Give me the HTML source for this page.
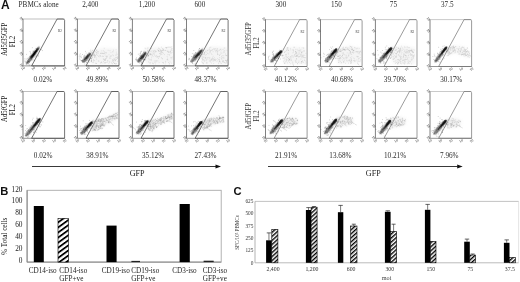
<!DOCTYPE html>
<html><head><meta charset="utf-8"><style>
html,body{margin:0;padding:0;background:#fff;width:520px;height:282px;overflow:hidden}
svg{display:block;font-family:"Liberation Serif",serif;filter:grayscale(1) blur(0.25px)}
</style></head><body>
<svg width="520" height="282" viewBox="0 0 520 282"><defs><filter id="bl1" x="-50%" y="-50%" width="200%" height="200%"><feGaussianBlur stdDeviation="0.55"/></filter><filter id="bl2" x="-50%" y="-50%" width="200%" height="200%"><feGaussianBlur stdDeviation="0.35"/></filter><filter id="bl3" x="-50%" y="-50%" width="200%" height="200%"><feGaussianBlur stdDeviation="1.5"/></filter></defs>
<text x="0.90" y="9.20" font-size="12" text-anchor="start" fill="#111" font-family="Liberation Sans" font-weight="bold">A</text>
<text x="0.30" y="194.80" font-size="11.2" text-anchor="start" fill="#111" font-family="Liberation Sans" font-weight="bold">B</text>
<text x="233.40" y="194.60" font-size="11.2" text-anchor="start" fill="#111" font-family="Liberation Sans" font-weight="bold">C</text>
<line x1="23" y1="19.0" x2="64.6" y2="19.0" stroke="#b8b8b8" stroke-width="0.9"/>
<line x1="23" y1="65.9" x2="64.6" y2="65.9" stroke="#888" stroke-width="0.9"/>
<line x1="23" y1="19.0" x2="23" y2="65.9" stroke="#808080" stroke-width="1"/>
<text transform="translate(20.20,19.00) rotate(58)" font-size="3.8" text-anchor="middle" fill="#3a3a3a" font-family="Liberation Serif">10</text>
<line x1="21.9" y1="19.0" x2="23" y2="19.0" stroke="#777" stroke-width="0.5"/>
<text transform="translate(20.20,30.73) rotate(58)" font-size="3.8" text-anchor="middle" fill="#3a3a3a" font-family="Liberation Serif">10</text>
<line x1="21.9" y1="30.725" x2="23" y2="30.725" stroke="#777" stroke-width="0.5"/>
<text transform="translate(20.20,42.45) rotate(58)" font-size="3.8" text-anchor="middle" fill="#3a3a3a" font-family="Liberation Serif">10</text>
<line x1="21.9" y1="42.45" x2="23" y2="42.45" stroke="#777" stroke-width="0.5"/>
<text transform="translate(20.20,54.18) rotate(58)" font-size="3.8" text-anchor="middle" fill="#3a3a3a" font-family="Liberation Serif">10</text>
<line x1="21.9" y1="54.175000000000004" x2="23" y2="54.175000000000004" stroke="#777" stroke-width="0.5"/>
<text transform="translate(20.20,65.90) rotate(58)" font-size="3.8" text-anchor="middle" fill="#3a3a3a" font-family="Liberation Serif">10</text>
<line x1="21.9" y1="65.9" x2="23" y2="65.9" stroke="#777" stroke-width="0.5"/>
<text transform="translate(23.70,69.60) rotate(-35)" font-size="3.8" text-anchor="middle" fill="#3a3a3a" font-family="Liberation Serif">10</text>
<text transform="translate(34.10,69.60) rotate(-35)" font-size="3.8" text-anchor="middle" fill="#3a3a3a" font-family="Liberation Serif">10</text>
<text transform="translate(44.50,69.60) rotate(-35)" font-size="3.8" text-anchor="middle" fill="#3a3a3a" font-family="Liberation Serif">10</text>
<text transform="translate(54.90,69.60) rotate(-35)" font-size="3.8" text-anchor="middle" fill="#3a3a3a" font-family="Liberation Serif">10</text>
<text transform="translate(65.30,69.60) rotate(-35)" font-size="3.8" text-anchor="middle" fill="#3a3a3a" font-family="Liberation Serif">10</text>
<polyline points="64.6,65.9 31.6,65.9 57.1,19.0 63.599999999999994,19.0 64.6,20.2 64.6,65.9" fill="none" stroke="#3a3a3a" stroke-width="0.7"/>
<text x="58.0" y="32.0" font-size="3.3" fill="#333" font-family="Liberation Serif">R2</text>
<line x1="77.4" y1="19.0" x2="119.0" y2="19.0" stroke="#b8b8b8" stroke-width="0.9"/>
<line x1="77.4" y1="65.9" x2="119.0" y2="65.9" stroke="#888" stroke-width="0.9"/>
<line x1="77.4" y1="19.0" x2="77.4" y2="65.9" stroke="#808080" stroke-width="1"/>
<text transform="translate(74.60,19.00) rotate(58)" font-size="3.8" text-anchor="middle" fill="#3a3a3a" font-family="Liberation Serif">10</text>
<line x1="76.30000000000001" y1="19.0" x2="77.4" y2="19.0" stroke="#777" stroke-width="0.5"/>
<text transform="translate(74.60,30.73) rotate(58)" font-size="3.8" text-anchor="middle" fill="#3a3a3a" font-family="Liberation Serif">10</text>
<line x1="76.30000000000001" y1="30.725" x2="77.4" y2="30.725" stroke="#777" stroke-width="0.5"/>
<text transform="translate(74.60,42.45) rotate(58)" font-size="3.8" text-anchor="middle" fill="#3a3a3a" font-family="Liberation Serif">10</text>
<line x1="76.30000000000001" y1="42.45" x2="77.4" y2="42.45" stroke="#777" stroke-width="0.5"/>
<text transform="translate(74.60,54.18) rotate(58)" font-size="3.8" text-anchor="middle" fill="#3a3a3a" font-family="Liberation Serif">10</text>
<line x1="76.30000000000001" y1="54.175000000000004" x2="77.4" y2="54.175000000000004" stroke="#777" stroke-width="0.5"/>
<text transform="translate(74.60,65.90) rotate(58)" font-size="3.8" text-anchor="middle" fill="#3a3a3a" font-family="Liberation Serif">10</text>
<line x1="76.30000000000001" y1="65.9" x2="77.4" y2="65.9" stroke="#777" stroke-width="0.5"/>
<text transform="translate(78.10,69.60) rotate(-35)" font-size="3.8" text-anchor="middle" fill="#3a3a3a" font-family="Liberation Serif">10</text>
<text transform="translate(88.50,69.60) rotate(-35)" font-size="3.8" text-anchor="middle" fill="#3a3a3a" font-family="Liberation Serif">10</text>
<text transform="translate(98.90,69.60) rotate(-35)" font-size="3.8" text-anchor="middle" fill="#3a3a3a" font-family="Liberation Serif">10</text>
<text transform="translate(109.30,69.60) rotate(-35)" font-size="3.8" text-anchor="middle" fill="#3a3a3a" font-family="Liberation Serif">10</text>
<text transform="translate(119.70,69.60) rotate(-35)" font-size="3.8" text-anchor="middle" fill="#3a3a3a" font-family="Liberation Serif">10</text>
<polyline points="119.0,65.9 86.0,65.9 111.5,19.0 118.0,19.0 119.0,20.2 119.0,65.9" fill="none" stroke="#3a3a3a" stroke-width="0.7"/>
<text x="112.4" y="32.0" font-size="3.3" fill="#333" font-family="Liberation Serif">R2</text>
<line x1="132.4" y1="19.0" x2="174.0" y2="19.0" stroke="#b8b8b8" stroke-width="0.9"/>
<line x1="132.4" y1="65.9" x2="174.0" y2="65.9" stroke="#888" stroke-width="0.9"/>
<line x1="132.4" y1="19.0" x2="132.4" y2="65.9" stroke="#808080" stroke-width="1"/>
<text transform="translate(129.60,19.00) rotate(58)" font-size="3.8" text-anchor="middle" fill="#3a3a3a" font-family="Liberation Serif">10</text>
<line x1="131.3" y1="19.0" x2="132.4" y2="19.0" stroke="#777" stroke-width="0.5"/>
<text transform="translate(129.60,30.73) rotate(58)" font-size="3.8" text-anchor="middle" fill="#3a3a3a" font-family="Liberation Serif">10</text>
<line x1="131.3" y1="30.725" x2="132.4" y2="30.725" stroke="#777" stroke-width="0.5"/>
<text transform="translate(129.60,42.45) rotate(58)" font-size="3.8" text-anchor="middle" fill="#3a3a3a" font-family="Liberation Serif">10</text>
<line x1="131.3" y1="42.45" x2="132.4" y2="42.45" stroke="#777" stroke-width="0.5"/>
<text transform="translate(129.60,54.18) rotate(58)" font-size="3.8" text-anchor="middle" fill="#3a3a3a" font-family="Liberation Serif">10</text>
<line x1="131.3" y1="54.175000000000004" x2="132.4" y2="54.175000000000004" stroke="#777" stroke-width="0.5"/>
<text transform="translate(129.60,65.90) rotate(58)" font-size="3.8" text-anchor="middle" fill="#3a3a3a" font-family="Liberation Serif">10</text>
<line x1="131.3" y1="65.9" x2="132.4" y2="65.9" stroke="#777" stroke-width="0.5"/>
<text transform="translate(133.10,69.60) rotate(-35)" font-size="3.8" text-anchor="middle" fill="#3a3a3a" font-family="Liberation Serif">10</text>
<text transform="translate(143.50,69.60) rotate(-35)" font-size="3.8" text-anchor="middle" fill="#3a3a3a" font-family="Liberation Serif">10</text>
<text transform="translate(153.90,69.60) rotate(-35)" font-size="3.8" text-anchor="middle" fill="#3a3a3a" font-family="Liberation Serif">10</text>
<text transform="translate(164.30,69.60) rotate(-35)" font-size="3.8" text-anchor="middle" fill="#3a3a3a" font-family="Liberation Serif">10</text>
<text transform="translate(174.70,69.60) rotate(-35)" font-size="3.8" text-anchor="middle" fill="#3a3a3a" font-family="Liberation Serif">10</text>
<polyline points="174.0,65.9 141.0,65.9 166.5,19.0 173.0,19.0 174.0,20.2 174.0,65.9" fill="none" stroke="#3a3a3a" stroke-width="0.7"/>
<text x="167.4" y="32.0" font-size="3.3" fill="#333" font-family="Liberation Serif">R2</text>
<line x1="186.5" y1="19.0" x2="228.1" y2="19.0" stroke="#b8b8b8" stroke-width="0.9"/>
<line x1="186.5" y1="65.9" x2="228.1" y2="65.9" stroke="#888" stroke-width="0.9"/>
<line x1="186.5" y1="19.0" x2="186.5" y2="65.9" stroke="#808080" stroke-width="1"/>
<text transform="translate(183.70,19.00) rotate(58)" font-size="3.8" text-anchor="middle" fill="#3a3a3a" font-family="Liberation Serif">10</text>
<line x1="185.4" y1="19.0" x2="186.5" y2="19.0" stroke="#777" stroke-width="0.5"/>
<text transform="translate(183.70,30.73) rotate(58)" font-size="3.8" text-anchor="middle" fill="#3a3a3a" font-family="Liberation Serif">10</text>
<line x1="185.4" y1="30.725" x2="186.5" y2="30.725" stroke="#777" stroke-width="0.5"/>
<text transform="translate(183.70,42.45) rotate(58)" font-size="3.8" text-anchor="middle" fill="#3a3a3a" font-family="Liberation Serif">10</text>
<line x1="185.4" y1="42.45" x2="186.5" y2="42.45" stroke="#777" stroke-width="0.5"/>
<text transform="translate(183.70,54.18) rotate(58)" font-size="3.8" text-anchor="middle" fill="#3a3a3a" font-family="Liberation Serif">10</text>
<line x1="185.4" y1="54.175000000000004" x2="186.5" y2="54.175000000000004" stroke="#777" stroke-width="0.5"/>
<text transform="translate(183.70,65.90) rotate(58)" font-size="3.8" text-anchor="middle" fill="#3a3a3a" font-family="Liberation Serif">10</text>
<line x1="185.4" y1="65.9" x2="186.5" y2="65.9" stroke="#777" stroke-width="0.5"/>
<text transform="translate(187.20,69.60) rotate(-35)" font-size="3.8" text-anchor="middle" fill="#3a3a3a" font-family="Liberation Serif">10</text>
<text transform="translate(197.60,69.60) rotate(-35)" font-size="3.8" text-anchor="middle" fill="#3a3a3a" font-family="Liberation Serif">10</text>
<text transform="translate(208.00,69.60) rotate(-35)" font-size="3.8" text-anchor="middle" fill="#3a3a3a" font-family="Liberation Serif">10</text>
<text transform="translate(218.40,69.60) rotate(-35)" font-size="3.8" text-anchor="middle" fill="#3a3a3a" font-family="Liberation Serif">10</text>
<text transform="translate(228.80,69.60) rotate(-35)" font-size="3.8" text-anchor="middle" fill="#3a3a3a" font-family="Liberation Serif">10</text>
<polyline points="228.1,65.9 195.1,65.9 220.6,19.0 227.1,19.0 228.1,20.2 228.1,65.9" fill="none" stroke="#3a3a3a" stroke-width="0.7"/>
<text x="221.5" y="32.0" font-size="3.3" fill="#333" font-family="Liberation Serif">R2</text>
<line x1="265.5" y1="19.6" x2="307.1" y2="19.6" stroke="#c4c4c4" stroke-width="0.9"/>
<line x1="265.5" y1="66.5" x2="307.1" y2="66.5" stroke="#888" stroke-width="0.9"/>
<line x1="265.5" y1="19.6" x2="265.5" y2="66.5" stroke="#808080" stroke-width="1"/>
<text transform="translate(262.70,19.60) rotate(58)" font-size="3.8" text-anchor="middle" fill="#3a3a3a" font-family="Liberation Serif">10</text>
<line x1="264.4" y1="19.6" x2="265.5" y2="19.6" stroke="#777" stroke-width="0.5"/>
<text transform="translate(262.70,31.33) rotate(58)" font-size="3.8" text-anchor="middle" fill="#3a3a3a" font-family="Liberation Serif">10</text>
<line x1="264.4" y1="31.325000000000003" x2="265.5" y2="31.325000000000003" stroke="#777" stroke-width="0.5"/>
<text transform="translate(262.70,43.05) rotate(58)" font-size="3.8" text-anchor="middle" fill="#3a3a3a" font-family="Liberation Serif">10</text>
<line x1="264.4" y1="43.05" x2="265.5" y2="43.05" stroke="#777" stroke-width="0.5"/>
<text transform="translate(262.70,54.77) rotate(58)" font-size="3.8" text-anchor="middle" fill="#3a3a3a" font-family="Liberation Serif">10</text>
<line x1="264.4" y1="54.775" x2="265.5" y2="54.775" stroke="#777" stroke-width="0.5"/>
<text transform="translate(262.70,66.50) rotate(58)" font-size="3.8" text-anchor="middle" fill="#3a3a3a" font-family="Liberation Serif">10</text>
<line x1="264.4" y1="66.5" x2="265.5" y2="66.5" stroke="#777" stroke-width="0.5"/>
<text transform="translate(266.20,70.20) rotate(-35)" font-size="3.8" text-anchor="middle" fill="#3a3a3a" font-family="Liberation Serif">10</text>
<text transform="translate(276.60,70.20) rotate(-35)" font-size="3.8" text-anchor="middle" fill="#3a3a3a" font-family="Liberation Serif">10</text>
<text transform="translate(287.00,70.20) rotate(-35)" font-size="3.8" text-anchor="middle" fill="#3a3a3a" font-family="Liberation Serif">10</text>
<text transform="translate(297.40,70.20) rotate(-35)" font-size="3.8" text-anchor="middle" fill="#3a3a3a" font-family="Liberation Serif">10</text>
<text transform="translate(307.80,70.20) rotate(-35)" font-size="3.8" text-anchor="middle" fill="#3a3a3a" font-family="Liberation Serif">10</text>
<polyline points="307.1,66.5 274.1,66.5 299.6,19.6 306.1,19.6 307.1,20.8 307.1,66.5" fill="none" stroke="#707070" stroke-width="0.7"/>
<text x="300.5" y="32.6" font-size="3.3" fill="#333" font-family="Liberation Serif">R2</text>
<line x1="320.5" y1="19.6" x2="362.1" y2="19.6" stroke="#c4c4c4" stroke-width="0.9"/>
<line x1="320.5" y1="66.5" x2="362.1" y2="66.5" stroke="#888" stroke-width="0.9"/>
<line x1="320.5" y1="19.6" x2="320.5" y2="66.5" stroke="#808080" stroke-width="1"/>
<text transform="translate(317.70,19.60) rotate(58)" font-size="3.8" text-anchor="middle" fill="#3a3a3a" font-family="Liberation Serif">10</text>
<line x1="319.4" y1="19.6" x2="320.5" y2="19.6" stroke="#777" stroke-width="0.5"/>
<text transform="translate(317.70,31.33) rotate(58)" font-size="3.8" text-anchor="middle" fill="#3a3a3a" font-family="Liberation Serif">10</text>
<line x1="319.4" y1="31.325000000000003" x2="320.5" y2="31.325000000000003" stroke="#777" stroke-width="0.5"/>
<text transform="translate(317.70,43.05) rotate(58)" font-size="3.8" text-anchor="middle" fill="#3a3a3a" font-family="Liberation Serif">10</text>
<line x1="319.4" y1="43.05" x2="320.5" y2="43.05" stroke="#777" stroke-width="0.5"/>
<text transform="translate(317.70,54.77) rotate(58)" font-size="3.8" text-anchor="middle" fill="#3a3a3a" font-family="Liberation Serif">10</text>
<line x1="319.4" y1="54.775" x2="320.5" y2="54.775" stroke="#777" stroke-width="0.5"/>
<text transform="translate(317.70,66.50) rotate(58)" font-size="3.8" text-anchor="middle" fill="#3a3a3a" font-family="Liberation Serif">10</text>
<line x1="319.4" y1="66.5" x2="320.5" y2="66.5" stroke="#777" stroke-width="0.5"/>
<text transform="translate(321.20,70.20) rotate(-35)" font-size="3.8" text-anchor="middle" fill="#3a3a3a" font-family="Liberation Serif">10</text>
<text transform="translate(331.60,70.20) rotate(-35)" font-size="3.8" text-anchor="middle" fill="#3a3a3a" font-family="Liberation Serif">10</text>
<text transform="translate(342.00,70.20) rotate(-35)" font-size="3.8" text-anchor="middle" fill="#3a3a3a" font-family="Liberation Serif">10</text>
<text transform="translate(352.40,70.20) rotate(-35)" font-size="3.8" text-anchor="middle" fill="#3a3a3a" font-family="Liberation Serif">10</text>
<text transform="translate(362.80,70.20) rotate(-35)" font-size="3.8" text-anchor="middle" fill="#3a3a3a" font-family="Liberation Serif">10</text>
<polyline points="362.1,66.5 329.1,66.5 354.6,19.6 361.1,19.6 362.1,20.8 362.1,66.5" fill="none" stroke="#707070" stroke-width="0.7"/>
<text x="355.5" y="32.6" font-size="3.3" fill="#333" font-family="Liberation Serif">R2</text>
<line x1="375.4" y1="19.6" x2="417.0" y2="19.6" stroke="#c4c4c4" stroke-width="0.9"/>
<line x1="375.4" y1="66.5" x2="417.0" y2="66.5" stroke="#888" stroke-width="0.9"/>
<line x1="375.4" y1="19.6" x2="375.4" y2="66.5" stroke="#808080" stroke-width="1"/>
<text transform="translate(372.60,19.60) rotate(58)" font-size="3.8" text-anchor="middle" fill="#3a3a3a" font-family="Liberation Serif">10</text>
<line x1="374.29999999999995" y1="19.6" x2="375.4" y2="19.6" stroke="#777" stroke-width="0.5"/>
<text transform="translate(372.60,31.33) rotate(58)" font-size="3.8" text-anchor="middle" fill="#3a3a3a" font-family="Liberation Serif">10</text>
<line x1="374.29999999999995" y1="31.325000000000003" x2="375.4" y2="31.325000000000003" stroke="#777" stroke-width="0.5"/>
<text transform="translate(372.60,43.05) rotate(58)" font-size="3.8" text-anchor="middle" fill="#3a3a3a" font-family="Liberation Serif">10</text>
<line x1="374.29999999999995" y1="43.05" x2="375.4" y2="43.05" stroke="#777" stroke-width="0.5"/>
<text transform="translate(372.60,54.77) rotate(58)" font-size="3.8" text-anchor="middle" fill="#3a3a3a" font-family="Liberation Serif">10</text>
<line x1="374.29999999999995" y1="54.775" x2="375.4" y2="54.775" stroke="#777" stroke-width="0.5"/>
<text transform="translate(372.60,66.50) rotate(58)" font-size="3.8" text-anchor="middle" fill="#3a3a3a" font-family="Liberation Serif">10</text>
<line x1="374.29999999999995" y1="66.5" x2="375.4" y2="66.5" stroke="#777" stroke-width="0.5"/>
<text transform="translate(376.10,70.20) rotate(-35)" font-size="3.8" text-anchor="middle" fill="#3a3a3a" font-family="Liberation Serif">10</text>
<text transform="translate(386.50,70.20) rotate(-35)" font-size="3.8" text-anchor="middle" fill="#3a3a3a" font-family="Liberation Serif">10</text>
<text transform="translate(396.90,70.20) rotate(-35)" font-size="3.8" text-anchor="middle" fill="#3a3a3a" font-family="Liberation Serif">10</text>
<text transform="translate(407.30,70.20) rotate(-35)" font-size="3.8" text-anchor="middle" fill="#3a3a3a" font-family="Liberation Serif">10</text>
<text transform="translate(417.70,70.20) rotate(-35)" font-size="3.8" text-anchor="middle" fill="#3a3a3a" font-family="Liberation Serif">10</text>
<polyline points="417.0,66.5 384.0,66.5 409.5,19.6 416.0,19.6 417.0,20.8 417.0,66.5" fill="none" stroke="#707070" stroke-width="0.7"/>
<text x="410.4" y="32.6" font-size="3.3" fill="#333" font-family="Liberation Serif">R2</text>
<line x1="430" y1="19.6" x2="471.6" y2="19.6" stroke="#c4c4c4" stroke-width="0.9"/>
<line x1="430" y1="66.5" x2="471.6" y2="66.5" stroke="#888" stroke-width="0.9"/>
<line x1="430" y1="19.6" x2="430" y2="66.5" stroke="#808080" stroke-width="1"/>
<text transform="translate(427.20,19.60) rotate(58)" font-size="3.8" text-anchor="middle" fill="#3a3a3a" font-family="Liberation Serif">10</text>
<line x1="428.9" y1="19.6" x2="430" y2="19.6" stroke="#777" stroke-width="0.5"/>
<text transform="translate(427.20,31.33) rotate(58)" font-size="3.8" text-anchor="middle" fill="#3a3a3a" font-family="Liberation Serif">10</text>
<line x1="428.9" y1="31.325000000000003" x2="430" y2="31.325000000000003" stroke="#777" stroke-width="0.5"/>
<text transform="translate(427.20,43.05) rotate(58)" font-size="3.8" text-anchor="middle" fill="#3a3a3a" font-family="Liberation Serif">10</text>
<line x1="428.9" y1="43.05" x2="430" y2="43.05" stroke="#777" stroke-width="0.5"/>
<text transform="translate(427.20,54.77) rotate(58)" font-size="3.8" text-anchor="middle" fill="#3a3a3a" font-family="Liberation Serif">10</text>
<line x1="428.9" y1="54.775" x2="430" y2="54.775" stroke="#777" stroke-width="0.5"/>
<text transform="translate(427.20,66.50) rotate(58)" font-size="3.8" text-anchor="middle" fill="#3a3a3a" font-family="Liberation Serif">10</text>
<line x1="428.9" y1="66.5" x2="430" y2="66.5" stroke="#777" stroke-width="0.5"/>
<text transform="translate(430.70,70.20) rotate(-35)" font-size="3.8" text-anchor="middle" fill="#3a3a3a" font-family="Liberation Serif">10</text>
<text transform="translate(441.10,70.20) rotate(-35)" font-size="3.8" text-anchor="middle" fill="#3a3a3a" font-family="Liberation Serif">10</text>
<text transform="translate(451.50,70.20) rotate(-35)" font-size="3.8" text-anchor="middle" fill="#3a3a3a" font-family="Liberation Serif">10</text>
<text transform="translate(461.90,70.20) rotate(-35)" font-size="3.8" text-anchor="middle" fill="#3a3a3a" font-family="Liberation Serif">10</text>
<text transform="translate(472.30,70.20) rotate(-35)" font-size="3.8" text-anchor="middle" fill="#3a3a3a" font-family="Liberation Serif">10</text>
<polyline points="471.6,66.5 438.6,66.5 464.1,19.6 470.6,19.6 471.6,20.8 471.6,66.5" fill="none" stroke="#707070" stroke-width="0.7"/>
<line x1="23" y1="91.5" x2="64.6" y2="91.5" stroke="#b8b8b8" stroke-width="0.9"/>
<line x1="23" y1="138.3" x2="64.6" y2="138.3" stroke="#888" stroke-width="0.9"/>
<line x1="23" y1="91.5" x2="23" y2="138.3" stroke="#808080" stroke-width="1"/>
<text transform="translate(20.20,91.50) rotate(58)" font-size="3.8" text-anchor="middle" fill="#3a3a3a" font-family="Liberation Serif">10</text>
<line x1="21.9" y1="91.5" x2="23" y2="91.5" stroke="#777" stroke-width="0.5"/>
<text transform="translate(20.20,103.20) rotate(58)" font-size="3.8" text-anchor="middle" fill="#3a3a3a" font-family="Liberation Serif">10</text>
<line x1="21.9" y1="103.2" x2="23" y2="103.2" stroke="#777" stroke-width="0.5"/>
<text transform="translate(20.20,114.90) rotate(58)" font-size="3.8" text-anchor="middle" fill="#3a3a3a" font-family="Liberation Serif">10</text>
<line x1="21.9" y1="114.9" x2="23" y2="114.9" stroke="#777" stroke-width="0.5"/>
<text transform="translate(20.20,126.60) rotate(58)" font-size="3.8" text-anchor="middle" fill="#3a3a3a" font-family="Liberation Serif">10</text>
<line x1="21.9" y1="126.60000000000001" x2="23" y2="126.60000000000001" stroke="#777" stroke-width="0.5"/>
<text transform="translate(20.20,138.30) rotate(58)" font-size="3.8" text-anchor="middle" fill="#3a3a3a" font-family="Liberation Serif">10</text>
<line x1="21.9" y1="138.3" x2="23" y2="138.3" stroke="#777" stroke-width="0.5"/>
<text transform="translate(23.70,142.00) rotate(-35)" font-size="3.8" text-anchor="middle" fill="#3a3a3a" font-family="Liberation Serif">10</text>
<text transform="translate(34.10,142.00) rotate(-35)" font-size="3.8" text-anchor="middle" fill="#3a3a3a" font-family="Liberation Serif">10</text>
<text transform="translate(44.50,142.00) rotate(-35)" font-size="3.8" text-anchor="middle" fill="#3a3a3a" font-family="Liberation Serif">10</text>
<text transform="translate(54.90,142.00) rotate(-35)" font-size="3.8" text-anchor="middle" fill="#3a3a3a" font-family="Liberation Serif">10</text>
<text transform="translate(65.30,142.00) rotate(-35)" font-size="3.8" text-anchor="middle" fill="#3a3a3a" font-family="Liberation Serif">10</text>
<polyline points="64.6,138.3 31.6,138.3 57.1,91.5 63.599999999999994,91.5 64.6,92.7 64.6,138.3" fill="none" stroke="#3a3a3a" stroke-width="0.7"/>
<line x1="77.4" y1="91.5" x2="119.0" y2="91.5" stroke="#b8b8b8" stroke-width="0.9"/>
<line x1="77.4" y1="138.3" x2="119.0" y2="138.3" stroke="#888" stroke-width="0.9"/>
<line x1="77.4" y1="91.5" x2="77.4" y2="138.3" stroke="#808080" stroke-width="1"/>
<text transform="translate(74.60,91.50) rotate(58)" font-size="3.8" text-anchor="middle" fill="#3a3a3a" font-family="Liberation Serif">10</text>
<line x1="76.30000000000001" y1="91.5" x2="77.4" y2="91.5" stroke="#777" stroke-width="0.5"/>
<text transform="translate(74.60,103.20) rotate(58)" font-size="3.8" text-anchor="middle" fill="#3a3a3a" font-family="Liberation Serif">10</text>
<line x1="76.30000000000001" y1="103.2" x2="77.4" y2="103.2" stroke="#777" stroke-width="0.5"/>
<text transform="translate(74.60,114.90) rotate(58)" font-size="3.8" text-anchor="middle" fill="#3a3a3a" font-family="Liberation Serif">10</text>
<line x1="76.30000000000001" y1="114.9" x2="77.4" y2="114.9" stroke="#777" stroke-width="0.5"/>
<text transform="translate(74.60,126.60) rotate(58)" font-size="3.8" text-anchor="middle" fill="#3a3a3a" font-family="Liberation Serif">10</text>
<line x1="76.30000000000001" y1="126.60000000000001" x2="77.4" y2="126.60000000000001" stroke="#777" stroke-width="0.5"/>
<text transform="translate(74.60,138.30) rotate(58)" font-size="3.8" text-anchor="middle" fill="#3a3a3a" font-family="Liberation Serif">10</text>
<line x1="76.30000000000001" y1="138.3" x2="77.4" y2="138.3" stroke="#777" stroke-width="0.5"/>
<text transform="translate(78.10,142.00) rotate(-35)" font-size="3.8" text-anchor="middle" fill="#3a3a3a" font-family="Liberation Serif">10</text>
<text transform="translate(88.50,142.00) rotate(-35)" font-size="3.8" text-anchor="middle" fill="#3a3a3a" font-family="Liberation Serif">10</text>
<text transform="translate(98.90,142.00) rotate(-35)" font-size="3.8" text-anchor="middle" fill="#3a3a3a" font-family="Liberation Serif">10</text>
<text transform="translate(109.30,142.00) rotate(-35)" font-size="3.8" text-anchor="middle" fill="#3a3a3a" font-family="Liberation Serif">10</text>
<text transform="translate(119.70,142.00) rotate(-35)" font-size="3.8" text-anchor="middle" fill="#3a3a3a" font-family="Liberation Serif">10</text>
<polyline points="119.0,138.3 86.0,138.3 111.5,91.5 118.0,91.5 119.0,92.7 119.0,138.3" fill="none" stroke="#3a3a3a" stroke-width="0.7"/>
<line x1="132.4" y1="91.5" x2="174.0" y2="91.5" stroke="#b8b8b8" stroke-width="0.9"/>
<line x1="132.4" y1="138.3" x2="174.0" y2="138.3" stroke="#888" stroke-width="0.9"/>
<line x1="132.4" y1="91.5" x2="132.4" y2="138.3" stroke="#808080" stroke-width="1"/>
<text transform="translate(129.60,91.50) rotate(58)" font-size="3.8" text-anchor="middle" fill="#3a3a3a" font-family="Liberation Serif">10</text>
<line x1="131.3" y1="91.5" x2="132.4" y2="91.5" stroke="#777" stroke-width="0.5"/>
<text transform="translate(129.60,103.20) rotate(58)" font-size="3.8" text-anchor="middle" fill="#3a3a3a" font-family="Liberation Serif">10</text>
<line x1="131.3" y1="103.2" x2="132.4" y2="103.2" stroke="#777" stroke-width="0.5"/>
<text transform="translate(129.60,114.90) rotate(58)" font-size="3.8" text-anchor="middle" fill="#3a3a3a" font-family="Liberation Serif">10</text>
<line x1="131.3" y1="114.9" x2="132.4" y2="114.9" stroke="#777" stroke-width="0.5"/>
<text transform="translate(129.60,126.60) rotate(58)" font-size="3.8" text-anchor="middle" fill="#3a3a3a" font-family="Liberation Serif">10</text>
<line x1="131.3" y1="126.60000000000001" x2="132.4" y2="126.60000000000001" stroke="#777" stroke-width="0.5"/>
<text transform="translate(129.60,138.30) rotate(58)" font-size="3.8" text-anchor="middle" fill="#3a3a3a" font-family="Liberation Serif">10</text>
<line x1="131.3" y1="138.3" x2="132.4" y2="138.3" stroke="#777" stroke-width="0.5"/>
<text transform="translate(133.10,142.00) rotate(-35)" font-size="3.8" text-anchor="middle" fill="#3a3a3a" font-family="Liberation Serif">10</text>
<text transform="translate(143.50,142.00) rotate(-35)" font-size="3.8" text-anchor="middle" fill="#3a3a3a" font-family="Liberation Serif">10</text>
<text transform="translate(153.90,142.00) rotate(-35)" font-size="3.8" text-anchor="middle" fill="#3a3a3a" font-family="Liberation Serif">10</text>
<text transform="translate(164.30,142.00) rotate(-35)" font-size="3.8" text-anchor="middle" fill="#3a3a3a" font-family="Liberation Serif">10</text>
<text transform="translate(174.70,142.00) rotate(-35)" font-size="3.8" text-anchor="middle" fill="#3a3a3a" font-family="Liberation Serif">10</text>
<polyline points="174.0,138.3 141.0,138.3 166.5,91.5 173.0,91.5 174.0,92.7 174.0,138.3" fill="none" stroke="#3a3a3a" stroke-width="0.7"/>
<line x1="186.5" y1="91.5" x2="228.1" y2="91.5" stroke="#b8b8b8" stroke-width="0.9"/>
<line x1="186.5" y1="138.3" x2="228.1" y2="138.3" stroke="#888" stroke-width="0.9"/>
<line x1="186.5" y1="91.5" x2="186.5" y2="138.3" stroke="#808080" stroke-width="1"/>
<text transform="translate(183.70,91.50) rotate(58)" font-size="3.8" text-anchor="middle" fill="#3a3a3a" font-family="Liberation Serif">10</text>
<line x1="185.4" y1="91.5" x2="186.5" y2="91.5" stroke="#777" stroke-width="0.5"/>
<text transform="translate(183.70,103.20) rotate(58)" font-size="3.8" text-anchor="middle" fill="#3a3a3a" font-family="Liberation Serif">10</text>
<line x1="185.4" y1="103.2" x2="186.5" y2="103.2" stroke="#777" stroke-width="0.5"/>
<text transform="translate(183.70,114.90) rotate(58)" font-size="3.8" text-anchor="middle" fill="#3a3a3a" font-family="Liberation Serif">10</text>
<line x1="185.4" y1="114.9" x2="186.5" y2="114.9" stroke="#777" stroke-width="0.5"/>
<text transform="translate(183.70,126.60) rotate(58)" font-size="3.8" text-anchor="middle" fill="#3a3a3a" font-family="Liberation Serif">10</text>
<line x1="185.4" y1="126.60000000000001" x2="186.5" y2="126.60000000000001" stroke="#777" stroke-width="0.5"/>
<text transform="translate(183.70,138.30) rotate(58)" font-size="3.8" text-anchor="middle" fill="#3a3a3a" font-family="Liberation Serif">10</text>
<line x1="185.4" y1="138.3" x2="186.5" y2="138.3" stroke="#777" stroke-width="0.5"/>
<text transform="translate(187.20,142.00) rotate(-35)" font-size="3.8" text-anchor="middle" fill="#3a3a3a" font-family="Liberation Serif">10</text>
<text transform="translate(197.60,142.00) rotate(-35)" font-size="3.8" text-anchor="middle" fill="#3a3a3a" font-family="Liberation Serif">10</text>
<text transform="translate(208.00,142.00) rotate(-35)" font-size="3.8" text-anchor="middle" fill="#3a3a3a" font-family="Liberation Serif">10</text>
<text transform="translate(218.40,142.00) rotate(-35)" font-size="3.8" text-anchor="middle" fill="#3a3a3a" font-family="Liberation Serif">10</text>
<text transform="translate(228.80,142.00) rotate(-35)" font-size="3.8" text-anchor="middle" fill="#3a3a3a" font-family="Liberation Serif">10</text>
<polyline points="228.1,138.3 195.1,138.3 220.6,91.5 227.1,91.5 228.1,92.7 228.1,138.3" fill="none" stroke="#3a3a3a" stroke-width="0.7"/>
<line x1="265.5" y1="91.5" x2="307.1" y2="91.5" stroke="#c4c4c4" stroke-width="0.9"/>
<line x1="265.5" y1="138.3" x2="307.1" y2="138.3" stroke="#888" stroke-width="0.9"/>
<line x1="265.5" y1="91.5" x2="265.5" y2="138.3" stroke="#808080" stroke-width="1"/>
<text transform="translate(262.70,91.50) rotate(58)" font-size="3.8" text-anchor="middle" fill="#3a3a3a" font-family="Liberation Serif">10</text>
<line x1="264.4" y1="91.5" x2="265.5" y2="91.5" stroke="#777" stroke-width="0.5"/>
<text transform="translate(262.70,103.20) rotate(58)" font-size="3.8" text-anchor="middle" fill="#3a3a3a" font-family="Liberation Serif">10</text>
<line x1="264.4" y1="103.2" x2="265.5" y2="103.2" stroke="#777" stroke-width="0.5"/>
<text transform="translate(262.70,114.90) rotate(58)" font-size="3.8" text-anchor="middle" fill="#3a3a3a" font-family="Liberation Serif">10</text>
<line x1="264.4" y1="114.9" x2="265.5" y2="114.9" stroke="#777" stroke-width="0.5"/>
<text transform="translate(262.70,126.60) rotate(58)" font-size="3.8" text-anchor="middle" fill="#3a3a3a" font-family="Liberation Serif">10</text>
<line x1="264.4" y1="126.60000000000001" x2="265.5" y2="126.60000000000001" stroke="#777" stroke-width="0.5"/>
<text transform="translate(262.70,138.30) rotate(58)" font-size="3.8" text-anchor="middle" fill="#3a3a3a" font-family="Liberation Serif">10</text>
<line x1="264.4" y1="138.3" x2="265.5" y2="138.3" stroke="#777" stroke-width="0.5"/>
<text transform="translate(266.20,142.00) rotate(-35)" font-size="3.8" text-anchor="middle" fill="#3a3a3a" font-family="Liberation Serif">10</text>
<text transform="translate(276.60,142.00) rotate(-35)" font-size="3.8" text-anchor="middle" fill="#3a3a3a" font-family="Liberation Serif">10</text>
<text transform="translate(287.00,142.00) rotate(-35)" font-size="3.8" text-anchor="middle" fill="#3a3a3a" font-family="Liberation Serif">10</text>
<text transform="translate(297.40,142.00) rotate(-35)" font-size="3.8" text-anchor="middle" fill="#3a3a3a" font-family="Liberation Serif">10</text>
<text transform="translate(307.80,142.00) rotate(-35)" font-size="3.8" text-anchor="middle" fill="#3a3a3a" font-family="Liberation Serif">10</text>
<polyline points="307.1,138.3 274.1,138.3 299.6,91.5 306.1,91.5 307.1,92.7 307.1,138.3" fill="none" stroke="#707070" stroke-width="0.7"/>
<line x1="320.5" y1="91.5" x2="362.1" y2="91.5" stroke="#c4c4c4" stroke-width="0.9"/>
<line x1="320.5" y1="138.3" x2="362.1" y2="138.3" stroke="#888" stroke-width="0.9"/>
<line x1="320.5" y1="91.5" x2="320.5" y2="138.3" stroke="#808080" stroke-width="1"/>
<text transform="translate(317.70,91.50) rotate(58)" font-size="3.8" text-anchor="middle" fill="#3a3a3a" font-family="Liberation Serif">10</text>
<line x1="319.4" y1="91.5" x2="320.5" y2="91.5" stroke="#777" stroke-width="0.5"/>
<text transform="translate(317.70,103.20) rotate(58)" font-size="3.8" text-anchor="middle" fill="#3a3a3a" font-family="Liberation Serif">10</text>
<line x1="319.4" y1="103.2" x2="320.5" y2="103.2" stroke="#777" stroke-width="0.5"/>
<text transform="translate(317.70,114.90) rotate(58)" font-size="3.8" text-anchor="middle" fill="#3a3a3a" font-family="Liberation Serif">10</text>
<line x1="319.4" y1="114.9" x2="320.5" y2="114.9" stroke="#777" stroke-width="0.5"/>
<text transform="translate(317.70,126.60) rotate(58)" font-size="3.8" text-anchor="middle" fill="#3a3a3a" font-family="Liberation Serif">10</text>
<line x1="319.4" y1="126.60000000000001" x2="320.5" y2="126.60000000000001" stroke="#777" stroke-width="0.5"/>
<text transform="translate(317.70,138.30) rotate(58)" font-size="3.8" text-anchor="middle" fill="#3a3a3a" font-family="Liberation Serif">10</text>
<line x1="319.4" y1="138.3" x2="320.5" y2="138.3" stroke="#777" stroke-width="0.5"/>
<text transform="translate(321.20,142.00) rotate(-35)" font-size="3.8" text-anchor="middle" fill="#3a3a3a" font-family="Liberation Serif">10</text>
<text transform="translate(331.60,142.00) rotate(-35)" font-size="3.8" text-anchor="middle" fill="#3a3a3a" font-family="Liberation Serif">10</text>
<text transform="translate(342.00,142.00) rotate(-35)" font-size="3.8" text-anchor="middle" fill="#3a3a3a" font-family="Liberation Serif">10</text>
<text transform="translate(352.40,142.00) rotate(-35)" font-size="3.8" text-anchor="middle" fill="#3a3a3a" font-family="Liberation Serif">10</text>
<text transform="translate(362.80,142.00) rotate(-35)" font-size="3.8" text-anchor="middle" fill="#3a3a3a" font-family="Liberation Serif">10</text>
<polyline points="362.1,138.3 329.1,138.3 354.6,91.5 361.1,91.5 362.1,92.7 362.1,138.3" fill="none" stroke="#707070" stroke-width="0.7"/>
<line x1="375.4" y1="91.5" x2="417.0" y2="91.5" stroke="#c4c4c4" stroke-width="0.9"/>
<line x1="375.4" y1="138.3" x2="417.0" y2="138.3" stroke="#888" stroke-width="0.9"/>
<line x1="375.4" y1="91.5" x2="375.4" y2="138.3" stroke="#808080" stroke-width="1"/>
<text transform="translate(372.60,91.50) rotate(58)" font-size="3.8" text-anchor="middle" fill="#3a3a3a" font-family="Liberation Serif">10</text>
<line x1="374.29999999999995" y1="91.5" x2="375.4" y2="91.5" stroke="#777" stroke-width="0.5"/>
<text transform="translate(372.60,103.20) rotate(58)" font-size="3.8" text-anchor="middle" fill="#3a3a3a" font-family="Liberation Serif">10</text>
<line x1="374.29999999999995" y1="103.2" x2="375.4" y2="103.2" stroke="#777" stroke-width="0.5"/>
<text transform="translate(372.60,114.90) rotate(58)" font-size="3.8" text-anchor="middle" fill="#3a3a3a" font-family="Liberation Serif">10</text>
<line x1="374.29999999999995" y1="114.9" x2="375.4" y2="114.9" stroke="#777" stroke-width="0.5"/>
<text transform="translate(372.60,126.60) rotate(58)" font-size="3.8" text-anchor="middle" fill="#3a3a3a" font-family="Liberation Serif">10</text>
<line x1="374.29999999999995" y1="126.60000000000001" x2="375.4" y2="126.60000000000001" stroke="#777" stroke-width="0.5"/>
<text transform="translate(372.60,138.30) rotate(58)" font-size="3.8" text-anchor="middle" fill="#3a3a3a" font-family="Liberation Serif">10</text>
<line x1="374.29999999999995" y1="138.3" x2="375.4" y2="138.3" stroke="#777" stroke-width="0.5"/>
<text transform="translate(376.10,142.00) rotate(-35)" font-size="3.8" text-anchor="middle" fill="#3a3a3a" font-family="Liberation Serif">10</text>
<text transform="translate(386.50,142.00) rotate(-35)" font-size="3.8" text-anchor="middle" fill="#3a3a3a" font-family="Liberation Serif">10</text>
<text transform="translate(396.90,142.00) rotate(-35)" font-size="3.8" text-anchor="middle" fill="#3a3a3a" font-family="Liberation Serif">10</text>
<text transform="translate(407.30,142.00) rotate(-35)" font-size="3.8" text-anchor="middle" fill="#3a3a3a" font-family="Liberation Serif">10</text>
<text transform="translate(417.70,142.00) rotate(-35)" font-size="3.8" text-anchor="middle" fill="#3a3a3a" font-family="Liberation Serif">10</text>
<polyline points="417.0,138.3 384.0,138.3 409.5,91.5 416.0,91.5 417.0,92.7 417.0,138.3" fill="none" stroke="#707070" stroke-width="0.7"/>
<line x1="430" y1="91.5" x2="471.6" y2="91.5" stroke="#c4c4c4" stroke-width="0.9"/>
<line x1="430" y1="138.3" x2="471.6" y2="138.3" stroke="#888" stroke-width="0.9"/>
<line x1="430" y1="91.5" x2="430" y2="138.3" stroke="#808080" stroke-width="1"/>
<text transform="translate(427.20,91.50) rotate(58)" font-size="3.8" text-anchor="middle" fill="#3a3a3a" font-family="Liberation Serif">10</text>
<line x1="428.9" y1="91.5" x2="430" y2="91.5" stroke="#777" stroke-width="0.5"/>
<text transform="translate(427.20,103.20) rotate(58)" font-size="3.8" text-anchor="middle" fill="#3a3a3a" font-family="Liberation Serif">10</text>
<line x1="428.9" y1="103.2" x2="430" y2="103.2" stroke="#777" stroke-width="0.5"/>
<text transform="translate(427.20,114.90) rotate(58)" font-size="3.8" text-anchor="middle" fill="#3a3a3a" font-family="Liberation Serif">10</text>
<line x1="428.9" y1="114.9" x2="430" y2="114.9" stroke="#777" stroke-width="0.5"/>
<text transform="translate(427.20,126.60) rotate(58)" font-size="3.8" text-anchor="middle" fill="#3a3a3a" font-family="Liberation Serif">10</text>
<line x1="428.9" y1="126.60000000000001" x2="430" y2="126.60000000000001" stroke="#777" stroke-width="0.5"/>
<text transform="translate(427.20,138.30) rotate(58)" font-size="3.8" text-anchor="middle" fill="#3a3a3a" font-family="Liberation Serif">10</text>
<line x1="428.9" y1="138.3" x2="430" y2="138.3" stroke="#777" stroke-width="0.5"/>
<text transform="translate(430.70,142.00) rotate(-35)" font-size="3.8" text-anchor="middle" fill="#3a3a3a" font-family="Liberation Serif">10</text>
<text transform="translate(441.10,142.00) rotate(-35)" font-size="3.8" text-anchor="middle" fill="#3a3a3a" font-family="Liberation Serif">10</text>
<text transform="translate(451.50,142.00) rotate(-35)" font-size="3.8" text-anchor="middle" fill="#3a3a3a" font-family="Liberation Serif">10</text>
<text transform="translate(461.90,142.00) rotate(-35)" font-size="3.8" text-anchor="middle" fill="#3a3a3a" font-family="Liberation Serif">10</text>
<text transform="translate(472.30,142.00) rotate(-35)" font-size="3.8" text-anchor="middle" fill="#3a3a3a" font-family="Liberation Serif">10</text>
<polyline points="471.6,138.3 438.6,138.3 464.1,91.5 470.6,91.5 471.6,92.7 471.6,138.3" fill="none" stroke="#707070" stroke-width="0.7"/>
<defs><clipPath id="cp00"><rect x="23.5" y="19.5" width="40.6" height="45.900000000000006"/></clipPath><clipPath id="cp01"><rect x="77.9" y="19.5" width="40.6" height="45.900000000000006"/></clipPath><clipPath id="cp02"><rect x="132.9" y="19.5" width="40.6" height="45.900000000000006"/></clipPath><clipPath id="cp03"><rect x="187.0" y="19.5" width="40.6" height="45.900000000000006"/></clipPath><clipPath id="cp04"><rect x="266.0" y="20.1" width="40.6" height="45.9"/></clipPath><clipPath id="cp05"><rect x="321.0" y="20.1" width="40.6" height="45.9"/></clipPath><clipPath id="cp06"><rect x="375.9" y="20.1" width="40.6" height="45.9"/></clipPath><clipPath id="cp07"><rect x="430.5" y="20.1" width="40.6" height="45.9"/></clipPath><clipPath id="cp10"><rect x="23.5" y="92.0" width="40.6" height="45.80000000000001"/></clipPath><clipPath id="cp11"><rect x="77.9" y="92.0" width="40.6" height="45.80000000000001"/></clipPath><clipPath id="cp12"><rect x="132.9" y="92.0" width="40.6" height="45.80000000000001"/></clipPath><clipPath id="cp13"><rect x="187.0" y="92.0" width="40.6" height="45.80000000000001"/></clipPath><clipPath id="cp14"><rect x="266.0" y="92.0" width="40.6" height="45.80000000000001"/></clipPath><clipPath id="cp15"><rect x="321.0" y="92.0" width="40.6" height="45.80000000000001"/></clipPath><clipPath id="cp16"><rect x="375.9" y="92.0" width="40.6" height="45.80000000000001"/></clipPath><clipPath id="cp17"><rect x="430.5" y="92.0" width="40.6" height="45.80000000000001"/></clipPath></defs>
<ellipse cx="32.94" cy="55.34" rx="11.66" ry="2.11" transform="rotate(-53.4 32.94 55.34)" fill="#999" fill-opacity="0.6" filter="url(#bl1)"/>
<ellipse cx="30.66" cy="58.40" rx="7.41" ry="1.70" transform="rotate(-53.4 30.66 58.40)" fill="#555" fill-opacity="0.6" filter="url(#bl1)"/>
<ellipse cx="34.69" cy="52.98" rx="7.19" ry="1.16" transform="rotate(-53.4 34.69 52.98)" fill="#000" fill-opacity="0.95" filter="url(#bl2)"/>
<path d="M32.2 59.9h0M29.8 64.6h0M32.6 54.7h0M33.3 56.0h0M26.3 62.8h0M27.9 62.7h0M32.2 57.3h0M28.3 59.6h0M36.8 55.5h0M30.5 56.8h0M42.4 50.6h0M31.2 60.1h0M29.6 62.6h0M37.8 51.3h0M26.2 59.1h0M29.7 56.7h0M33.9 55.4h0M29.3 60.8h0M33.3 51.5h0M34.5 54.8h0M31.0 55.6h0M38.6 55.0h0M27.3 58.3h0M36.2 48.6h0M34.2 50.9h0M33.5 66.2h0M31.7 57.1h0M31.4 55.0h0M25.3 62.1h0M30.5 52.2h0M36.1 48.5h0M36.7 56.3h0M29.9 51.6h0M39.2 49.1h0M32.0 55.8h0M34.5 51.9h0M38.3 56.1h0M29.8 59.1h0M31.1 57.4h0M31.8 56.0h0M29.1 61.6h0M36.5 51.6h0M28.1 61.9h0M39.3 51.0h0M25.0 60.8h0M38.2 49.9h0M37.7 51.2h0M30.4 56.2h0M34.8 60.9h0M24.9 58.9h0M28.8 61.2h0M34.0 57.0h0M33.8 54.2h0M31.9 57.2h0M26.4 54.4h0M33.0 51.0h0M30.6 53.7h0M25.1 61.6h0M38.4 49.6h0M32.3 47.7h0M30.6 56.9h0M34.9 53.9h0M28.5 63.9h0M29.1 61.7h0M30.7 58.4h0M28.4 61.5h0M27.4 62.1h0M37.6 49.7h0M35.0 54.5h0M32.0 59.2h0M33.8 60.1h0M41.5 49.6h0M31.4 55.6h0M27.8 62.4h0M30.4 58.0h0M32.3 64.2h0M29.2 65.4h0M27.5 61.0h0M35.7 56.8h0M39.0 48.0h0" stroke="#000" stroke-opacity="0.3" stroke-width="0.7" stroke-linecap="round"/>
<path d="M90.0 50.0 L104.0 48.0 L118.0 49.0 L118.0 64.0 L92.0 64.0 L89.0 58.0Z" fill="#d4d4d4" fill-opacity="0.25" filter="url(#bl3)"/>
<path d="M114.0 59.1h0M96.6 53.9h0M93.8 60.4h0M104.4 60.5h0M98.6 51.6h0M112.5 63.8h0M113.7 60.9h0M112.7 59.8h0M95.6 56.3h0M89.8 52.5h0M96.5 59.1h0M116.7 55.2h0M116.2 63.8h0M116.7 53.8h0M95.4 51.6h0M94.7 51.3h0M107.1 62.4h0M113.4 55.7h0M107.9 60.8h0M91.5 58.6h0M115.4 60.5h0M110.8 55.6h0M94.2 60.6h0M98.6 60.8h0M117.2 54.3h0M100.6 63.1h0M110.0 50.7h0M92.7 50.4h0M115.2 60.9h0M93.2 61.2h0M117.4 58.5h0M99.2 56.8h0M117.2 58.4h0M104.3 62.9h0M101.6 61.9h0M113.0 51.4h0M96.3 52.7h0M96.0 57.4h0M96.5 54.7h0M92.8 62.6h0M99.3 55.3h0M105.9 62.5h0M101.2 62.7h0M103.5 56.5h0M104.2 48.3h0M101.8 50.9h0M94.0 55.6h0M110.0 56.9h0M98.5 56.3h0M105.1 60.5h0M92.1 57.0h0M96.2 52.4h0M111.4 56.1h0M105.3 60.2h0M115.5 55.1h0M106.8 56.1h0M103.9 59.1h0M102.1 56.5h0M102.9 63.1h0M109.3 62.0h0M116.3 52.2h0M105.2 63.1h0M113.4 50.2h0M92.5 55.1h0M91.1 51.9h0M91.1 58.7h0M111.7 62.4h0M93.5 59.5h0M108.1 50.3h0M114.6 63.5h0M95.4 63.2h0M100.5 55.8h0M117.7 61.3h0M93.7 54.9h0M104.0 53.4h0M94.7 53.1h0M105.1 55.0h0M107.1 56.2h0M111.9 63.5h0M92.0 52.2h0M96.8 50.1h0M101.2 62.6h0M112.8 52.1h0M93.3 62.7h0M105.5 59.2h0M109.0 54.8h0M107.4 60.8h0M91.4 61.7h0M90.9 61.8h0M102.2 53.4h0M105.0 62.8h0M96.8 50.1h0M104.3 51.8h0M92.2 50.6h0M90.5 51.2h0M98.0 52.9h0M111.0 52.6h0M103.5 50.8h0M110.3 56.8h0M94.5 55.6h0M116.1 49.7h0M112.7 54.9h0M103.4 61.4h0M100.4 56.1h0M108.9 63.7h0M98.9 61.3h0M109.5 58.2h0M100.7 53.6h0M90.6 50.1h0M91.1 59.9h0M96.4 50.6h0M91.5 61.5h0M114.2 58.7h0M97.2 51.9h0M97.5 55.4h0M93.6 55.1h0M96.6 63.4h0M117.2 56.8h0M96.1 63.5h0M98.0 53.7h0M102.8 56.0h0M94.8 56.1h0M91.6 54.4h0M97.8 51.7h0M106.0 56.5h0M110.8 58.5h0M109.8 62.1h0" stroke="#666" stroke-opacity="0.28" stroke-width="0.6" stroke-linecap="round"/>
<path d="M100.3 53.2 L102.0 53.2 L103.7 53.6 L105.2 52.8 L107.0 52.9M114.9 58.0 L116.3 57.6 L117.7 57.3 L119.2 57.0 L120.6 57.5M112.3 61.2 L113.4 62.1 L114.1 63.2 L115.2 63.9 L116.5 63.6M92.9 53.8 L93.6 54.1 L94.3 54.6 L94.9 55.3 L95.3 56.0M112.1 60.0 L113.3 60.3 L114.5 59.8 L115.7 59.8 L116.9 59.3M91.2 52.2 L92.6 52.4 L93.6 53.5 L94.6 54.6 L95.8 55.5M102.9 58.9 L104.3 59.5 L105.8 59.0 L106.7 57.8 L107.1 56.3" fill="none" stroke="#888" stroke-opacity="0.45" stroke-width="0.5" clip-path="url(#cp01)"/>
<ellipse cx="86.71" cy="57.55" rx="6.62" ry="2.05" transform="rotate(-46.6 86.71 57.55)" fill="#999" fill-opacity="0.6" filter="url(#bl1)"/>
<ellipse cx="85.22" cy="59.12" rx="4.21" ry="1.65" transform="rotate(-46.6 85.22 59.12)" fill="#555" fill-opacity="0.6" filter="url(#bl1)"/>
<ellipse cx="87.86" cy="56.33" rx="4.09" ry="1.12" transform="rotate(-46.6 87.86 56.33)" fill="#000" fill-opacity="0.7124999999999999" filter="url(#bl2)"/>
<path d="M87.7 54.9h0M84.8 64.0h0M82.7 61.2h0M90.8 58.6h0M87.4 55.7h0M88.4 60.0h0M89.1 60.7h0M86.7 62.7h0M90.7 53.9h0M86.1 58.0h0M91.0 56.8h0M84.3 59.3h0M85.4 61.3h0M86.8 56.6h0M79.2 56.6h0M82.9 60.2h0M85.4 51.4h0M88.0 55.8h0M86.0 61.6h0M81.5 60.6h0M80.6 60.1h0M85.0 59.5h0M82.8 60.0h0M90.6 56.0h0M82.5 62.0h0M80.0 57.7h0M89.1 53.2h0M81.1 56.0h0M80.3 53.9h0M91.4 60.8h0M84.1 57.7h0M83.5 62.2h0M84.1 61.8h0M88.8 52.8h0M84.3 59.7h0M86.2 62.4h0M89.1 62.2h0M88.0 54.1h0M91.3 60.1h0M84.7 55.2h0M91.1 58.5h0M87.0 59.0h0M87.7 54.7h0M81.7 60.5h0M91.4 55.4h0M86.7 60.4h0M84.6 59.1h0M79.7 55.1h0M87.1 55.7h0M87.9 60.7h0M84.5 61.2h0M90.9 55.2h0M87.2 58.4h0M94.4 57.1h0M86.9 58.9h0M84.1 62.1h0M86.4 60.1h0M85.3 60.5h0M89.4 59.3h0M83.9 56.6h0M84.1 56.8h0M85.0 58.9h0M82.2 60.7h0M88.2 65.3h0M84.1 55.4h0M81.6 57.7h0M84.7 59.7h0M87.9 59.9h0M92.3 55.8h0M79.7 59.0h0M81.8 60.8h0M82.6 54.5h0M89.0 58.7h0M90.0 54.1h0M92.1 57.7h0M80.7 56.3h0M84.6 62.2h0M89.8 57.9h0M89.6 53.5h0M86.1 53.0h0" stroke="#000" stroke-opacity="0.3" stroke-width="0.7" stroke-linecap="round"/>
<path d="M145.0 48.0 L160.0 47.0 L173.0 48.0 L173.0 64.0 L146.0 64.0 L144.0 56.0Z" fill="#d4d4d4" fill-opacity="0.25" filter="url(#bl3)"/>
<path d="M157.3 56.4h0M145.1 60.3h0M150.7 62.6h0M162.7 52.2h0M147.7 51.3h0M162.5 58.9h0M147.3 48.2h0M159.2 56.9h0M155.3 50.8h0M161.4 47.2h0M152.7 54.8h0M171.8 58.0h0M169.6 55.1h0M150.8 51.2h0M171.9 59.0h0M158.5 58.5h0M156.2 51.4h0M163.4 62.7h0M153.8 54.1h0M163.8 50.4h0M167.1 59.6h0M158.6 50.5h0M172.1 52.3h0M167.8 50.9h0M150.4 59.9h0M152.6 63.2h0M158.4 50.2h0M150.5 54.1h0M163.3 63.1h0M148.2 53.7h0M150.2 63.6h0M148.1 47.9h0M145.7 53.7h0M170.0 62.0h0M165.2 64.0h0M171.0 52.6h0M149.4 62.9h0M165.6 47.5h0M163.3 53.4h0M154.8 52.6h0M152.1 53.0h0M171.7 49.1h0M172.0 50.5h0M154.3 61.0h0M167.8 54.4h0M145.4 55.0h0M154.8 62.6h0M149.6 53.2h0M155.9 60.8h0M166.2 47.7h0M145.0 48.1h0M170.7 51.4h0M165.7 62.3h0M153.8 51.6h0M171.8 57.5h0M151.6 59.2h0M153.2 51.7h0M170.6 57.8h0M150.8 55.1h0M171.7 63.2h0M155.2 51.3h0M156.5 55.4h0M170.9 50.1h0M167.3 59.6h0M167.9 60.1h0M161.6 52.6h0M153.3 53.2h0M166.7 48.3h0M149.7 59.8h0M151.2 48.1h0M145.0 56.4h0M153.4 63.7h0M169.6 63.8h0M151.7 48.4h0M146.8 55.5h0M164.6 54.6h0M150.8 54.1h0M162.0 58.5h0M165.7 61.4h0M163.3 49.1h0M168.4 52.0h0M160.4 53.3h0M165.4 50.4h0M151.2 51.2h0M148.4 62.0h0M160.8 52.5h0M155.5 63.9h0M158.7 50.9h0M167.4 58.1h0M172.7 48.7h0M157.8 60.9h0M168.4 62.5h0M145.2 52.0h0M147.5 50.2h0M172.2 56.9h0M171.0 53.3h0M169.1 54.6h0M151.5 60.2h0M171.4 48.8h0M161.3 57.5h0M150.3 53.3h0M148.1 50.5h0M151.4 57.2h0M162.9 50.5h0M163.7 50.1h0M153.1 50.5h0M167.1 56.3h0M145.8 48.7h0M155.5 56.4h0M162.5 48.5h0M148.7 58.8h0M155.9 51.8h0M152.9 63.2h0M153.1 56.6h0M154.4 54.1h0M169.1 63.9h0M154.5 50.4h0M165.1 50.5h0M156.3 60.9h0M155.8 62.0h0M157.4 49.8h0M144.4 56.4h0M162.6 62.5h0M146.6 57.6h0M154.8 55.6h0M148.2 51.8h0M159.1 62.7h0" stroke="#666" stroke-opacity="0.28" stroke-width="0.6" stroke-linecap="round"/>
<path d="M147.2 55.3 L148.7 55.3 L150.0 54.4 L151.5 54.6 L152.5 55.7M158.0 47.9 L159.4 48.8 L160.7 49.9 L161.2 51.5 L162.5 52.5M166.8 50.8 L167.5 51.7 L168.6 52.1 L169.8 52.0 L170.9 51.7M159.0 53.5 L159.9 53.6 L160.5 54.2 L161.4 54.2 L162.3 54.3M166.0 47.6 L167.5 47.3 L169.1 47.1 L170.7 47.2 L172.2 46.8M156.2 56.9 L157.4 57.0 L158.5 57.0 L159.4 56.1 L160.3 55.5M158.2 51.0 L159.7 51.3 L161.1 50.9 L162.5 50.4 L163.4 49.1" fill="none" stroke="#888" stroke-opacity="0.45" stroke-width="0.5" clip-path="url(#cp02)"/>
<ellipse cx="142.01" cy="57.05" rx="7.02" ry="2.17" transform="rotate(-49.6 142.01 57.05)" fill="#999" fill-opacity="0.6" filter="url(#bl1)"/>
<ellipse cx="140.52" cy="58.80" rx="4.46" ry="1.75" transform="rotate(-49.6 140.52 58.80)" fill="#555" fill-opacity="0.6" filter="url(#bl1)"/>
<ellipse cx="143.16" cy="55.70" rx="4.33" ry="1.19" transform="rotate(-49.6 143.16 55.70)" fill="#000" fill-opacity="0.6174999999999999" filter="url(#bl2)"/>
<path d="M138.0 60.1h0M141.7 58.1h0M144.7 59.5h0M139.2 61.8h0M144.1 55.4h0M135.9 59.5h0M138.3 54.2h0M142.3 63.6h0M148.0 56.6h0M144.3 54.2h0M141.7 62.1h0M145.3 52.7h0M147.0 54.8h0M148.3 55.7h0M136.3 59.7h0M141.8 62.8h0M144.5 53.0h0M142.6 63.7h0M143.1 58.2h0M139.3 58.9h0M141.7 57.0h0M139.8 60.7h0M141.9 62.8h0M143.9 52.5h0M139.4 60.6h0M141.1 56.1h0M140.4 53.8h0M145.4 59.4h0M143.2 57.1h0M145.2 52.0h0M140.1 53.6h0M142.1 61.4h0M144.1 51.2h0M143.1 54.0h0M142.8 59.0h0M141.1 64.1h0M144.4 54.2h0M148.6 55.1h0M141.6 55.7h0M136.3 60.7h0M139.7 63.1h0M143.5 59.8h0M142.8 57.8h0M139.0 59.3h0M143.2 55.9h0M140.7 58.6h0M137.8 60.2h0M143.6 57.4h0M143.4 57.1h0M144.3 59.8h0M140.3 61.9h0M138.4 60.1h0M136.0 58.9h0M141.0 51.9h0M141.0 58.2h0M143.3 56.1h0M140.6 55.2h0M143.7 59.8h0M145.2 53.0h0M143.6 52.1h0M136.2 59.9h0M139.3 59.4h0M138.3 61.5h0M141.9 56.5h0M146.2 53.8h0M143.8 57.1h0M139.6 55.2h0M136.4 57.9h0M140.1 58.9h0M145.6 54.1h0M144.1 54.5h0M144.4 53.8h0M140.6 52.2h0M142.2 58.3h0M140.8 60.8h0M139.0 62.4h0M140.5 58.8h0M141.5 51.3h0M143.3 55.0h0M143.8 60.0h0" stroke="#000" stroke-opacity="0.3" stroke-width="0.7" stroke-linecap="round"/>
<path d="M201.0 48.0 L215.0 46.5 L228.0 48.0 L228.0 64.0 L202.0 64.0 L200.0 56.0Z" fill="#d4d4d4" fill-opacity="0.25" filter="url(#bl3)"/>
<path d="M222.1 55.7h0M207.4 57.7h0M227.0 50.3h0M207.3 50.6h0M220.8 63.0h0M220.9 52.2h0M224.6 52.2h0M206.7 62.4h0M217.7 58.6h0M218.6 63.6h0M213.1 61.2h0M219.5 61.5h0M212.2 59.2h0M216.0 51.9h0M205.9 57.4h0M202.2 62.4h0M203.0 62.8h0M209.7 49.0h0M219.4 57.6h0M219.5 59.4h0M201.8 56.8h0M210.2 60.8h0M222.9 62.1h0M201.8 61.7h0M225.6 63.0h0M203.0 50.1h0M223.7 60.7h0M217.8 60.9h0M217.7 51.5h0M202.8 48.2h0M221.2 50.1h0M208.9 53.9h0M207.9 59.0h0M210.3 52.1h0M227.0 55.3h0M223.8 57.3h0M200.9 53.7h0M212.2 60.0h0M209.7 58.8h0M215.1 50.3h0M224.1 48.1h0M223.0 49.5h0M221.3 63.6h0M200.1 55.1h0M213.8 60.4h0M205.2 55.2h0M209.7 61.1h0M207.3 63.0h0M207.9 50.3h0M219.6 55.2h0M203.1 57.6h0M202.3 60.3h0M219.5 60.3h0M217.6 52.7h0M211.2 53.4h0M224.9 48.0h0M205.8 51.1h0M225.2 55.3h0M210.6 62.0h0M206.5 54.6h0M214.9 59.7h0M221.1 57.8h0M209.8 52.2h0M204.3 61.3h0M218.5 59.5h0M204.7 54.2h0M221.7 56.6h0M203.5 54.6h0M224.8 50.7h0M205.4 51.8h0M219.7 61.3h0M204.3 49.2h0M206.9 52.2h0M214.6 49.3h0M209.2 49.8h0M227.3 59.3h0M202.9 63.3h0M202.8 53.2h0M227.5 60.4h0M220.5 54.1h0M205.5 57.7h0M203.0 50.1h0M210.9 47.1h0M211.2 60.3h0M219.4 55.3h0M217.7 54.6h0M204.0 57.1h0M211.3 59.5h0M225.4 54.0h0M216.1 59.6h0M211.8 50.5h0M220.2 61.9h0M221.7 58.8h0M223.9 58.4h0M218.0 54.4h0M208.8 57.5h0M202.7 53.8h0M221.9 59.0h0M217.6 50.9h0M211.9 54.5h0M217.4 53.7h0M218.9 62.8h0M205.1 58.0h0M221.8 53.3h0M213.7 63.6h0M201.1 56.0h0M204.5 60.2h0M226.3 55.6h0M202.8 56.6h0M215.1 59.1h0M214.3 57.7h0M223.2 55.6h0M211.5 63.1h0M205.9 58.5h0M211.0 59.8h0M203.4 63.7h0M210.0 47.5h0M207.7 53.5h0M200.4 53.8h0M211.8 58.7h0M209.9 51.1h0M206.3 59.5h0M226.3 55.7h0M206.1 60.5h0M211.0 50.2h0M203.6 60.1h0M222.7 57.6h0M213.1 56.3h0M206.3 63.4h0M209.9 57.7h0M222.9 60.8h0M213.1 51.7h0M215.4 48.7h0M223.3 52.7h0M223.8 51.2h0M210.5 50.9h0" stroke="#666" stroke-opacity="0.28" stroke-width="0.6" stroke-linecap="round"/>
<path d="M211.9 49.8 L212.7 49.7 L213.3 49.3 L213.8 48.7 L214.3 48.1M212.0 57.7 L213.2 58.4 L213.8 59.7 L215.1 60.2 L216.0 61.3M225.4 60.2 L226.1 60.7 L227.0 60.5 L227.5 59.7 L228.3 59.5M218.4 50.9 L219.0 50.3 L219.8 50.0 L220.5 49.5 L220.8 48.7M225.3 60.4 L226.1 60.8 L226.6 61.6 L226.8 62.5 L226.5 63.4M222.1 61.2 L223.0 61.4 L223.8 62.0 L224.6 62.4 L225.0 63.3M215.5 51.1 L216.5 50.8 L216.9 49.9 L217.3 49.0 L217.2 48.0" fill="none" stroke="#888" stroke-opacity="0.45" stroke-width="0.5" clip-path="url(#cp03)"/>
<ellipse cx="196.94" cy="55.56" rx="9.47" ry="2.23" transform="rotate(-47.3 196.94 55.56)" fill="#999" fill-opacity="0.6" filter="url(#bl1)"/>
<ellipse cx="194.84" cy="57.84" rx="6.02" ry="1.80" transform="rotate(-47.3 194.84 57.84)" fill="#555" fill-opacity="0.6" filter="url(#bl1)"/>
<ellipse cx="198.56" cy="53.81" rx="5.84" ry="1.22" transform="rotate(-47.3 198.56 53.81)" fill="#000" fill-opacity="0.6649999999999999" filter="url(#bl2)"/>
<path d="M194.1 53.7h0M200.9 51.4h0M192.3 63.0h0M195.5 53.3h0M199.6 54.7h0M194.2 55.3h0M204.5 52.5h0M199.5 55.3h0M189.0 59.5h0M199.7 48.7h0M197.1 60.1h0M196.3 55.8h0M204.3 53.8h0M198.8 54.9h0M196.1 58.9h0M195.0 54.8h0M197.2 55.7h0M194.6 55.4h0M192.3 53.6h0M193.1 57.2h0M198.5 50.0h0M195.4 59.9h0M199.6 58.4h0M199.6 51.8h0M194.1 57.3h0M199.2 56.2h0M198.4 54.3h0M198.7 52.6h0M200.5 50.5h0M194.2 58.1h0M192.7 63.4h0M202.1 58.3h0M199.6 54.8h0M193.8 50.5h0M195.9 52.4h0M195.6 52.6h0M199.4 54.2h0M199.1 59.0h0M200.7 53.5h0M192.2 62.2h0M202.3 54.7h0M193.7 56.1h0M201.0 52.4h0M191.5 56.5h0M192.9 56.9h0M196.7 57.4h0M198.9 54.6h0M197.2 54.7h0M194.1 64.0h0M200.0 57.2h0M201.2 50.4h0M195.5 57.3h0M202.9 59.4h0M194.3 54.2h0M198.0 59.0h0M195.1 61.0h0M192.9 60.3h0M198.8 53.6h0M193.2 61.3h0M200.7 51.1h0M195.6 63.3h0M194.1 59.3h0M199.6 53.2h0M200.4 53.0h0M201.1 55.0h0M189.4 58.6h0M197.6 53.7h0M199.5 48.5h0M197.0 61.7h0M190.4 61.2h0M189.0 59.8h0M188.9 58.3h0M194.4 58.0h0M199.6 50.3h0M198.3 57.6h0M198.3 55.5h0M195.5 56.1h0M199.1 51.2h0M193.4 55.9h0M193.6 54.8h0" stroke="#000" stroke-opacity="0.3" stroke-width="0.7" stroke-linecap="round"/>
<path d="M283.0 48.0 L295.0 47.0 L306.0 48.0 L306.0 64.0 L284.0 64.0 L282.0 56.0Z" fill="#d4d4d4" fill-opacity="0.25" filter="url(#bl3)"/>
<path d="M291.3 60.4h0M304.7 60.3h0M295.6 52.0h0M298.9 61.1h0M290.0 57.3h0M305.5 61.1h0M296.4 52.2h0M292.3 62.1h0M291.0 58.6h0M296.4 62.2h0M301.4 51.8h0M292.1 57.0h0M301.6 62.1h0M301.5 61.7h0M295.7 51.7h0M302.4 60.7h0M298.4 62.5h0M290.3 48.4h0M295.3 60.6h0M286.8 59.8h0M304.4 51.0h0M296.6 58.5h0M293.2 50.5h0M288.1 59.8h0M301.0 54.8h0M284.1 60.7h0M300.5 51.0h0M295.9 62.2h0M303.2 55.9h0M293.4 57.0h0M286.5 50.3h0M286.3 58.9h0M290.7 56.6h0M291.7 55.8h0M305.9 53.4h0M284.5 57.8h0M300.9 49.7h0M296.3 52.9h0M294.5 47.3h0M302.8 55.3h0M295.6 51.4h0M300.7 54.2h0M304.7 60.0h0M301.7 63.4h0M288.1 47.6h0M286.8 50.1h0M295.4 61.8h0M293.0 63.1h0M303.8 48.1h0M296.4 53.8h0M284.9 63.3h0M288.2 56.6h0M297.4 63.3h0M298.1 53.7h0M292.8 49.7h0M305.2 63.9h0M287.3 47.7h0M288.1 53.0h0M303.7 62.4h0M302.1 47.8h0M300.9 59.1h0M297.5 63.8h0M283.3 49.5h0M300.1 63.0h0M298.2 52.1h0M296.2 59.9h0M284.5 52.5h0M288.2 49.1h0M293.6 49.9h0M287.7 49.4h0M299.2 50.3h0M287.3 62.9h0M302.8 62.1h0M285.4 54.6h0M284.3 62.8h0M302.2 57.7h0M292.9 52.8h0M301.8 55.1h0M297.1 49.4h0M287.3 48.0h0M299.1 56.4h0M285.5 61.8h0M288.4 54.0h0M285.7 51.6h0M302.1 52.7h0M286.0 55.3h0M289.6 62.4h0M284.7 63.6h0M298.0 50.6h0M293.5 51.9h0M288.2 50.4h0M290.7 63.8h0M306.0 62.7h0M284.3 51.9h0M303.5 48.0h0M299.4 52.0h0M301.4 52.8h0M302.0 56.0h0M286.5 54.4h0M303.9 50.7h0M295.7 49.3h0M286.3 60.1h0M299.1 50.3h0M283.9 48.5h0M296.6 55.4h0M288.6 50.5h0M296.7 59.0h0M301.5 56.9h0M286.9 48.1h0M299.6 53.9h0M299.3 47.9h0M301.5 52.7h0M302.2 61.7h0M293.8 47.3h0M303.8 55.1h0M302.9 51.5h0M286.5 61.1h0M290.8 49.8h0M290.9 57.1h0M282.1 55.8h0M292.7 55.8h0M284.9 59.1h0M301.6 61.7h0M289.7 59.1h0M291.2 59.8h0M283.5 61.8h0M304.9 55.4h0" stroke="#666" stroke-opacity="0.28" stroke-width="0.6" stroke-linecap="round"/>
<path d="M294.3 56.0 L295.6 56.4 L296.8 56.1 L297.8 55.3 L298.2 54.1M288.0 60.9 L288.8 60.8 L289.4 60.4 L289.6 59.6 L289.9 58.9M295.8 55.9 L297.3 56.2 L298.5 56.9 L299.9 56.6 L301.0 55.6M293.8 55.5 L294.7 55.0 L295.2 54.1 L295.8 53.2 L296.7 52.8M285.5 56.7 L287.0 57.0 L288.0 58.2 L289.1 59.1 L290.3 60.0M302.2 55.9 L302.9 56.8 L303.8 57.5 L304.9 57.7 L306.1 57.7M292.5 63.7 L293.4 64.9 L293.6 66.5 L294.7 67.5 L295.8 68.6" fill="none" stroke="#888" stroke-opacity="0.45" stroke-width="0.5" clip-path="url(#cp04)"/>
<ellipse cx="276.34" cy="56.31" rx="8.59" ry="2.05" transform="rotate(-45.8 276.34 56.31)" fill="#999" fill-opacity="0.6" filter="url(#bl1)"/>
<ellipse cx="274.38" cy="58.32" rx="5.46" ry="1.65" transform="rotate(-45.8 274.38 58.32)" fill="#555" fill-opacity="0.6" filter="url(#bl1)"/>
<path d="M274.40 58.78 L274.83 58.42 L275.27 58.06 L275.71 57.70 L276.14 57.34 L276.58 56.98 L277.01 56.62 L277.45 56.26 L277.89 55.91 L278.32 55.55 L278.76 55.19 L279.20 54.83 L279.63 54.47 L280.07 54.11 L280.50 53.75 L280.94 53.39 L281.38 53.03 L281.74 52.60 L282.03 52.10 L282.23 51.51 L282.00 50.50 L282.00 50.50 L280.98 50.29 L280.40 50.51 L279.91 50.82 L279.49 51.19 L279.14 51.63 L278.79 52.08 L278.44 52.53 L278.10 52.97 L277.75 53.42 L277.40 53.86 L277.05 54.31 L276.70 54.75 L276.36 55.20 L276.01 55.65 L275.66 56.09 L275.31 56.54 L274.97 56.98 L274.62 57.43 L274.27 57.87 L273.92 58.32Z" fill="#111" fill-opacity="0.7" filter="url(#bl1)"/>
<ellipse cx="279.31" cy="53.26" rx="3.37" ry="0.82" transform="rotate(-45.8 279.31 53.26)" fill="#000" fill-opacity="0.8" filter="url(#bl2)"/>
<path d="M282.2 52.7h0M274.8 56.9h0M276.1 53.7h0M273.2 62.8h0M275.0 56.9h0M272.3 60.5h0M281.8 52.1h0M273.4 51.1h0M282.2 55.8h0M268.7 59.2h0M277.4 54.7h0M276.4 61.6h0M278.8 58.2h0M272.3 58.2h0M272.4 52.4h0M275.6 60.6h0M273.5 58.1h0M276.4 54.8h0M279.6 50.2h0M275.6 56.8h0M277.0 56.7h0M272.9 61.3h0M272.7 57.6h0M274.2 60.1h0M268.5 57.9h0M276.3 54.4h0M276.2 55.1h0M277.4 53.3h0M273.4 54.7h0M275.1 56.2h0M274.2 58.7h0M277.5 57.6h0M274.6 57.6h0M274.4 58.0h0M280.1 52.7h0M278.3 58.8h0M275.3 60.3h0M278.9 53.5h0M275.8 63.5h0M276.9 58.6h0M270.0 59.9h0M279.9 55.2h0M272.7 61.5h0M283.1 58.2h0M271.6 59.5h0M279.4 56.0h0M279.3 57.2h0M273.6 53.8h0M278.5 53.8h0M272.9 53.9h0M278.1 52.4h0M268.4 56.9h0M283.1 55.4h0M277.1 55.7h0M278.3 58.7h0M274.7 56.9h0M280.8 55.1h0M273.1 56.2h0M272.9 54.4h0M274.7 59.5h0M273.3 56.1h0M273.6 57.9h0M280.4 54.6h0M273.8 55.5h0M272.4 59.7h0M277.9 56.6h0M280.4 59.0h0M276.3 60.5h0M282.1 55.1h0M269.2 56.1h0M275.6 57.6h0M271.2 61.3h0M272.8 51.9h0M279.1 53.6h0M278.7 58.2h0M276.3 56.3h0M276.8 53.3h0M278.2 56.5h0M277.1 60.6h0M275.5 55.4h0" stroke="#000" stroke-opacity="0.3" stroke-width="0.7" stroke-linecap="round"/>
<path d="M337.0 48.0 L350.0 46.0 L361.0 48.0 L361.0 63.0 L338.0 64.0 L336.0 55.0Z" fill="#d4d4d4" fill-opacity="0.25" filter="url(#bl3)"/>
<path d="M338.5 52.7h0M346.0 56.1h0M350.4 61.8h0M360.1 54.8h0M347.0 57.2h0M360.9 52.2h0M349.3 60.7h0M340.3 51.7h0M360.5 60.9h0M348.8 48.0h0M358.4 58.4h0M358.2 53.6h0M339.9 51.2h0M348.8 55.1h0M340.7 49.3h0M351.8 56.9h0M351.9 46.8h0M346.3 60.2h0M343.7 58.4h0M357.1 56.6h0M352.7 49.5h0M348.4 56.0h0M342.7 57.6h0M350.4 53.4h0M339.0 48.8h0M355.0 47.9h0M338.5 49.1h0M349.1 60.8h0M351.3 60.5h0M355.3 51.8h0M353.9 52.4h0M340.2 50.8h0M338.5 62.3h0M350.6 52.3h0M347.2 52.9h0M350.6 63.3h0M347.0 57.2h0M359.3 61.4h0M343.9 62.2h0M356.4 51.5h0M351.1 63.3h0M348.4 63.1h0M342.1 53.0h0M354.0 50.0h0M343.7 61.8h0M348.1 60.3h0M342.1 49.1h0M345.0 49.4h0M360.3 51.2h0M350.0 48.1h0M349.3 52.9h0M346.1 47.2h0M339.1 60.9h0M344.8 50.4h0M340.8 51.1h0M352.6 52.1h0M339.9 58.7h0M338.3 50.9h0M356.9 48.3h0M347.1 61.1h0M356.1 48.9h0M344.8 59.0h0M345.4 63.3h0M341.2 63.1h0M348.6 50.1h0M347.3 48.4h0M353.7 50.7h0M358.5 56.6h0M345.2 50.4h0M351.2 49.8h0M357.8 48.2h0M348.8 55.8h0M342.8 59.9h0M345.6 57.8h0M350.2 51.6h0M345.7 47.5h0M340.4 61.3h0M344.0 57.9h0M338.7 56.1h0M345.0 55.0h0M343.4 47.2h0M343.8 50.1h0M339.2 58.9h0M343.1 53.3h0M358.7 59.9h0M358.1 61.5h0M339.3 51.0h0M336.7 58.2h0M352.6 52.3h0M346.3 57.9h0M353.5 50.5h0M357.2 52.3h0M351.7 49.3h0M338.9 62.4h0M354.4 58.8h0M340.1 49.6h0M343.6 52.9h0M337.0 51.6h0M352.0 49.2h0M357.0 56.3h0M353.9 50.6h0M346.9 58.3h0M356.9 60.0h0M357.4 56.9h0M337.2 50.4h0M338.8 60.2h0M341.3 62.5h0M354.7 47.6h0M353.4 53.1h0M354.7 60.9h0M343.0 47.6h0M359.7 53.6h0M359.3 58.4h0M354.5 60.9h0M351.7 54.2h0M337.4 58.6h0M346.7 55.2h0M359.2 48.3h0M353.6 60.5h0M342.5 55.8h0M360.2 57.5h0M349.6 50.5h0M337.5 52.4h0M346.3 49.6h0M343.8 48.5h0M353.7 58.1h0M341.9 50.4h0M348.9 54.0h0M359.4 52.3h0M343.5 61.9h0M339.5 56.1h0M344.3 60.7h0M349.7 59.7h0M340.2 58.0h0M351.0 54.3h0M355.2 61.0h0M338.9 51.2h0M345.0 49.7h0M337.5 51.1h0M340.9 58.6h0M347.2 48.0h0M344.1 54.4h0M345.1 49.0h0M360.8 59.5h0" stroke="#666" stroke-opacity="0.28" stroke-width="0.6" stroke-linecap="round"/>
<path d="M338.1 58.9 L339.6 58.0 L341.0 57.0 L342.3 55.9 L343.0 54.3M349.6 46.1 L351.1 46.7 L352.0 48.2 L352.4 49.8 L353.5 51.1M342.1 48.5 L342.7 49.1 L343.4 49.4 L344.1 49.4 L344.9 49.6M357.1 62.7 L357.8 63.3 L358.1 64.2 L358.7 64.9 L359.5 65.3M356.6 51.8 L357.7 51.6 L358.8 52.0 L359.9 51.9 L360.7 51.2M350.2 57.3 L351.2 58.5 L351.2 60.1 L351.2 61.6 L351.3 63.2M339.9 51.4 L341.3 51.2 L342.3 50.4 L343.3 49.5 L344.6 49.5M347.0 49.4 L348.5 49.5 L349.7 50.4 L350.4 51.7 L351.2 52.9" fill="none" stroke="#888" stroke-opacity="0.45" stroke-width="0.5" clip-path="url(#cp05)"/>
<ellipse cx="331.19" cy="55.32" rx="9.49" ry="2.23" transform="rotate(-49.6 331.19 55.32)" fill="#999" fill-opacity="0.6" filter="url(#bl1)"/>
<ellipse cx="329.18" cy="57.68" rx="6.03" ry="1.80" transform="rotate(-49.6 329.18 57.68)" fill="#555" fill-opacity="0.6" filter="url(#bl1)"/>
<path d="M329.22 58.18 L329.68 57.75 L330.13 57.33 L330.59 56.90 L331.04 56.47 L331.49 56.04 L331.95 55.61 L332.40 55.18 L332.86 54.75 L333.31 54.32 L333.76 53.90 L334.22 53.47 L334.67 53.04 L335.12 52.61 L335.58 52.18 L336.03 51.75 L336.49 51.32 L336.85 50.82 L337.14 50.25 L337.32 49.59 L337.00 48.50 L337.00 48.50 L335.87 48.35 L335.25 48.64 L334.73 49.01 L334.29 49.46 L333.94 49.97 L333.59 50.49 L333.24 51.01 L332.89 51.52 L332.54 52.04 L332.19 52.55 L331.84 53.07 L331.48 53.59 L331.13 54.10 L330.78 54.62 L330.43 55.14 L330.08 55.65 L329.73 56.17 L329.38 56.68 L329.03 57.20 L328.68 57.72Z" fill="#111" fill-opacity="0.7" filter="url(#bl1)"/>
<ellipse cx="334.24" cy="51.74" rx="3.72" ry="0.90" transform="rotate(-49.6 334.24 51.74)" fill="#000" fill-opacity="0.8" filter="url(#bl2)"/>
<path d="M327.3 57.3h0M328.0 54.8h0M326.4 55.3h0M335.7 52.4h0M336.3 51.2h0M331.8 57.6h0M330.9 54.1h0M327.5 61.9h0M323.7 53.3h0M336.8 51.5h0M340.1 55.3h0M331.4 53.3h0M337.2 54.0h0M333.3 55.2h0M324.2 54.3h0M328.6 54.0h0M332.0 53.2h0M337.0 52.2h0M327.0 62.6h0M333.3 58.7h0M325.4 60.0h0M330.2 53.1h0M327.4 54.4h0M329.3 56.5h0M328.6 62.1h0M335.4 58.3h0M327.7 61.4h0M325.3 59.8h0M331.3 55.2h0M333.9 56.9h0M327.1 58.3h0M330.7 55.0h0M333.8 56.0h0M327.3 61.9h0M332.0 57.8h0M331.3 51.2h0M338.5 56.3h0M337.5 56.3h0M327.6 61.5h0M325.6 58.3h0M332.7 46.9h0M325.6 59.1h0M335.4 53.2h0M330.1 57.7h0M324.5 60.8h0M328.0 57.5h0M329.4 49.6h0M334.2 55.7h0M330.8 47.2h0M333.2 49.3h0M327.3 59.8h0M332.0 50.6h0M333.4 53.7h0M328.6 56.4h0M336.7 55.2h0M324.9 60.5h0M334.2 56.0h0M335.8 53.0h0M329.5 62.9h0M326.9 57.5h0M323.9 56.4h0M333.1 55.6h0M327.7 61.4h0M334.4 51.8h0M325.9 58.3h0M332.4 52.7h0M332.2 59.3h0M334.7 57.9h0M334.8 54.7h0M321.0 57.8h0M330.7 58.8h0M337.0 52.5h0M335.5 52.8h0M334.7 51.8h0M331.1 51.7h0M328.7 61.2h0M331.5 48.4h0M334.8 56.4h0M325.6 60.4h0M336.5 51.6h0" stroke="#000" stroke-opacity="0.3" stroke-width="0.7" stroke-linecap="round"/>
<path d="M391.0 47.0 L405.0 46.0 L415.0 48.0 L415.0 64.0 L394.0 64.0 L390.0 55.0Z" fill="#d4d4d4" fill-opacity="0.25" filter="url(#bl3)"/>
<path d="M404.7 46.8h0M394.2 52.5h0M401.7 56.4h0M399.7 52.4h0M401.5 63.8h0M391.1 48.6h0M406.8 50.9h0M396.8 55.0h0M396.6 56.2h0M403.2 63.2h0M404.0 59.9h0M411.8 59.9h0M405.8 57.4h0M399.1 51.1h0M409.9 61.7h0M413.5 58.3h0M397.6 59.7h0M408.5 55.2h0M405.9 52.3h0M403.8 53.3h0M391.5 52.1h0M398.1 63.8h0M402.0 52.6h0M396.1 50.2h0M398.7 48.4h0M401.3 54.0h0M404.2 51.4h0M394.2 47.2h0M397.5 51.6h0M408.2 55.9h0M413.4 52.1h0M413.0 56.5h0M392.0 49.2h0M404.5 63.8h0M398.9 59.9h0M400.7 61.6h0M391.7 54.7h0M412.5 51.0h0M394.1 50.8h0M407.6 49.9h0M400.0 49.6h0M405.1 61.6h0M406.2 49.5h0M408.3 63.3h0M405.0 47.4h0M410.2 61.8h0M398.5 48.5h0M394.7 55.7h0M411.9 57.5h0M413.1 49.8h0M398.2 59.5h0M406.2 53.3h0M407.0 52.1h0M391.4 53.5h0M391.1 57.3h0M398.4 54.9h0M404.9 50.6h0M401.6 46.2h0M413.1 56.2h0M405.3 59.0h0M398.2 47.7h0M393.9 48.6h0M409.2 47.6h0M410.4 53.6h0M403.5 56.6h0M403.9 57.8h0M405.0 52.0h0M408.5 50.6h0M407.8 59.7h0M409.4 51.6h0M409.3 63.6h0M401.3 51.0h0M403.1 62.9h0M401.9 57.8h0M409.4 52.5h0M414.7 50.1h0M408.9 47.6h0M391.5 55.0h0M403.9 49.3h0M413.5 52.6h0M393.7 49.2h0M408.4 62.6h0M409.5 50.4h0M414.6 55.0h0M405.9 52.2h0M410.0 54.3h0M398.1 62.3h0M392.7 59.2h0M391.6 57.6h0M400.0 61.6h0M391.5 56.2h0M400.2 62.5h0M413.6 57.3h0M395.6 50.5h0M396.6 53.8h0M395.8 49.7h0M409.0 57.6h0M397.5 63.9h0M395.4 56.3h0M393.9 61.5h0M411.7 50.8h0M408.8 60.8h0M397.1 52.0h0M402.1 62.0h0M394.0 58.3h0M404.9 54.2h0M404.5 61.9h0M395.2 61.9h0M399.0 60.0h0M411.6 49.3h0M411.6 63.9h0M393.8 59.2h0M392.4 49.0h0M407.1 47.6h0M398.5 62.5h0M407.9 61.9h0M395.9 60.3h0M407.2 46.7h0M402.6 50.2h0M400.8 47.9h0M397.9 61.8h0M393.0 54.8h0M393.4 53.7h0M394.5 58.3h0M393.7 59.3h0M402.5 48.0h0M398.8 54.9h0M413.0 52.3h0M395.4 63.4h0M412.1 59.2h0M396.8 49.2h0M396.6 47.2h0M391.1 55.2h0M400.2 56.0h0M407.2 57.8h0M403.6 55.9h0M407.3 63.7h0M411.9 58.9h0M400.0 51.7h0M400.5 63.5h0M399.7 52.9h0M400.2 48.6h0M405.2 62.7h0M396.4 57.0h0M399.4 50.3h0M395.0 48.1h0M411.1 60.1h0M407.4 51.8h0M406.2 55.9h0M397.9 63.5h0M411.3 55.2h0M404.8 63.9h0M395.9 57.3h0M408.6 52.8h0M407.8 53.1h0M403.2 57.0h0M406.9 51.8h0M405.7 55.8h0M395.6 57.0h0M396.6 62.4h0M401.8 59.0h0" stroke="#666" stroke-opacity="0.28" stroke-width="0.6" stroke-linecap="round"/>
<path d="M403.1 54.6 L404.0 54.9 L404.9 55.2 L405.8 55.6 L406.6 56.1M410.3 50.3 L411.2 50.5 L412.0 51.0 L412.5 51.7 L412.5 52.7M399.5 61.0 L400.5 59.7 L400.8 58.2 L400.2 56.8 L399.3 55.5M410.1 55.4 L411.1 54.7 L412.3 55.0 L413.3 55.6 L414.4 56.1M402.0 60.4 L403.5 60.3 L404.9 59.9 L406.4 59.5 L407.6 58.6M399.3 52.1 L399.9 51.2 L400.7 50.3 L400.7 49.2 L400.1 48.2M408.0 50.9 L409.0 51.2 L410.0 50.8 L411.0 50.7 L412.0 51.1M395.0 53.6 L396.6 53.5 L397.6 52.4 L398.6 51.1 L399.3 49.8" fill="none" stroke="#888" stroke-opacity="0.45" stroke-width="0.5" clip-path="url(#cp06)"/>
<ellipse cx="385.44" cy="54.77" rx="10.46" ry="2.36" transform="rotate(-48.3 385.44 54.77)" fill="#999" fill-opacity="0.6" filter="url(#bl1)"/>
<ellipse cx="383.16" cy="57.33" rx="6.65" ry="1.90" transform="rotate(-48.3 383.16 57.33)" fill="#555" fill-opacity="0.6" filter="url(#bl1)"/>
<path d="M383.18 57.87 L383.69 57.41 L384.20 56.95 L384.71 56.48 L385.22 56.02 L385.72 55.55 L386.23 55.09 L386.74 54.63 L387.25 54.16 L387.76 53.70 L388.27 53.24 L388.77 52.77 L389.28 52.31 L389.79 51.85 L390.30 51.38 L390.81 50.92 L391.32 50.45 L391.73 49.91 L392.07 49.30 L392.30 48.58 L392.00 47.40 L392.00 47.40 L390.79 47.24 L390.11 47.55 L389.54 47.95 L389.04 48.43 L388.64 48.99 L388.24 49.55 L387.84 50.11 L387.44 50.67 L387.04 51.23 L386.63 51.78 L386.23 52.34 L385.83 52.90 L385.43 53.46 L385.03 54.02 L384.63 54.58 L384.22 55.13 L383.82 55.69 L383.42 56.25 L383.02 56.81 L382.62 57.37Z" fill="#111" fill-opacity="0.7" filter="url(#bl1)"/>
<ellipse cx="388.88" cy="50.90" rx="4.11" ry="0.95" transform="rotate(-48.3 388.88 50.90)" fill="#000" fill-opacity="0.8" filter="url(#bl2)"/>
<path d="M387.2 51.6h0M389.1 54.9h0M387.8 49.6h0M387.8 55.5h0M392.5 51.0h0M393.1 56.8h0M382.6 56.0h0M378.2 59.6h0M386.4 49.8h0M386.9 56.7h0M390.2 49.5h0M385.8 53.3h0M380.8 52.1h0M385.1 57.1h0M386.6 57.0h0M383.6 53.9h0M386.8 56.2h0M385.3 49.2h0M387.1 59.2h0M386.7 55.0h0M388.6 51.4h0M380.7 58.0h0M380.4 61.3h0M379.2 60.0h0M387.6 51.0h0M387.1 52.3h0M387.1 51.5h0M387.6 52.5h0M377.7 50.4h0M385.3 47.3h0M390.9 50.9h0M386.9 56.2h0M380.8 63.4h0M382.1 58.3h0M382.7 57.5h0M390.1 58.0h0M384.7 54.4h0M383.1 58.1h0M391.1 51.2h0M378.2 54.9h0M384.0 61.4h0M384.5 57.6h0M381.9 53.1h0M383.7 57.1h0M390.4 52.2h0M390.4 58.3h0M378.6 60.4h0M386.5 58.5h0M385.2 53.5h0M390.4 52.3h0M381.7 57.1h0M382.6 50.5h0M386.7 57.6h0M388.9 49.0h0M376.9 58.7h0M380.8 62.4h0M392.2 52.3h0M382.5 60.6h0M386.8 46.0h0M383.7 53.8h0M386.5 51.9h0M380.0 57.7h0M392.3 53.0h0M385.3 62.5h0M383.3 63.3h0M392.8 50.7h0M383.2 55.5h0M388.8 48.2h0M387.9 52.9h0M388.2 52.9h0M380.4 62.2h0M380.4 57.4h0M385.0 52.9h0M383.4 62.1h0M388.4 47.7h0M384.5 63.1h0M391.0 52.8h0M379.1 61.3h0M382.7 55.9h0M384.6 53.4h0" stroke="#000" stroke-opacity="0.3" stroke-width="0.7" stroke-linecap="round"/>
<path d="M446.0 48.0 L455.0 45.5 L464.0 47.0 L470.0 52.0 L470.0 58.0 L463.0 56.0 L455.0 53.0 L447.0 56.0Z" fill="#d4d4d4" fill-opacity="0.25" filter="url(#bl3)"/>
<path d="M448.2 51.3h0M463.5 50.9h0M462.3 46.9h0M468.5 52.1h0M453.0 49.8h0M464.0 51.7h0M460.3 52.3h0M454.0 51.1h0M453.2 46.4h0M459.4 46.7h0M460.3 51.3h0M446.8 51.9h0M448.3 53.6h0M449.2 52.7h0M454.5 50.2h0M461.9 47.5h0M467.0 51.5h0M457.9 52.2h0M448.8 51.3h0M449.9 52.2h0M458.2 50.1h0M450.7 50.5h0M450.9 47.1h0M459.7 54.1h0M449.7 48.8h0M446.7 50.4h0M458.4 49.1h0M459.9 48.4h0M451.9 53.0h0M460.8 54.1h0M465.6 49.8h0M465.5 51.3h0M455.8 46.6h0M462.3 47.4h0M454.3 47.3h0M450.8 48.2h0M469.9 55.4h0M457.5 51.7h0M464.0 53.5h0M450.8 53.3h0M466.3 55.3h0M448.2 54.5h0M454.4 47.5h0M469.2 53.9h0M463.9 47.2h0M467.7 54.8h0M466.0 55.5h0M460.2 50.9h0M465.8 55.3h0M469.1 52.1h0M469.2 55.3h0M451.6 48.0h0M457.0 48.5h0M462.4 54.4h0M465.0 54.0h0M468.6 55.8h0M455.7 46.6h0M454.2 52.9h0M466.1 55.4h0M465.5 50.7h0M460.5 51.2h0M454.1 48.2h0M460.9 49.2h0M448.1 48.9h0M462.8 51.0h0M448.9 54.0h0M447.0 55.8h0M450.4 48.9h0M455.5 51.7h0M468.9 51.8h0M452.0 49.9h0M448.4 52.4h0M466.7 51.9h0M467.5 53.8h0M447.8 53.3h0M461.2 50.2h0M458.5 54.0h0M467.8 51.7h0M462.4 52.5h0M467.4 54.6h0M453.8 47.2h0M468.9 56.6h0M449.5 52.8h0M461.4 49.0h0M464.3 49.1h0M459.1 50.8h0M469.5 53.6h0M465.3 54.0h0M463.0 54.1h0M452.7 47.5h0M465.0 49.8h0M449.4 51.9h0M463.7 47.6h0M453.5 46.2h0M453.1 50.3h0M469.2 57.5h0M450.5 49.4h0M453.7 51.0h0M448.6 48.8h0M455.5 50.3h0M461.3 55.2h0M453.6 47.4h0M464.2 51.4h0M459.4 53.9h0M464.1 48.9h0M458.7 49.1h0M461.1 48.7h0M465.8 52.6h0M452.4 48.5h0M447.7 52.4h0M464.1 54.0h0M448.7 49.3h0M461.2 54.2h0M464.6 50.4h0M468.6 54.8h0M454.2 50.4h0M465.3 49.9h0M458.8 52.0h0M449.2 49.7h0M447.6 50.7h0M462.0 52.7h0M455.7 52.7h0M464.9 56.0h0M449.6 53.9h0M464.1 51.8h0M467.6 56.7h0M463.8 55.8h0" stroke="#666" stroke-opacity="0.28" stroke-width="0.6" stroke-linecap="round"/>
<path d="M449.2 54.3 L450.6 53.9 L451.4 52.8 L452.5 51.8 L453.9 51.4M452.6 48.2 L453.5 48.0 L454.3 48.6 L454.7 49.5 L455.3 50.3M466.1 49.6 L466.8 49.2 L467.3 48.7 L467.4 47.9 L467.3 47.2M448.7 48.3 L449.9 47.7 L451.2 47.3 L452.2 46.3 L453.5 45.9M465.4 52.2 L466.1 51.9 L466.8 51.5 L467.4 51.1 L467.7 50.3M461.1 54.6 L462.5 54.4 L463.8 54.5 L465.0 54.0 L466.3 54.3M469.9 55.6 L471.3 56.5 L473.0 56.4 L474.7 56.2 L476.0 55.1" fill="none" stroke="#888" stroke-opacity="0.45" stroke-width="0.5" clip-path="url(#cp07)"/>
<ellipse cx="440.94" cy="54.38" rx="10.44" ry="1.98" transform="rotate(-52.1 440.94 54.38)" fill="#999" fill-opacity="0.6" filter="url(#bl1)"/>
<ellipse cx="438.84" cy="57.07" rx="6.64" ry="1.60" transform="rotate(-52.1 438.84 57.07)" fill="#555" fill-opacity="0.6" filter="url(#bl1)"/>
<path d="M438.85 57.58 L439.32 57.07 L439.79 56.57 L440.25 56.07 L440.72 55.57 L441.19 55.07 L441.66 54.56 L442.12 54.06 L442.59 53.56 L443.06 53.06 L443.53 52.56 L443.99 52.05 L444.46 51.55 L444.93 51.05 L445.40 50.55 L445.86 50.04 L446.33 49.54 L446.72 48.98 L447.03 48.36 L447.25 47.66 L447.00 46.60 L447.00 46.60 L445.91 46.62 L445.29 47.00 L444.76 47.46 L444.31 47.97 L443.94 48.55 L443.56 49.12 L443.19 49.70 L442.82 50.27 L442.45 50.85 L442.07 51.42 L441.70 52.00 L441.33 52.58 L440.96 53.15 L440.58 53.73 L440.21 54.30 L439.84 54.88 L439.47 55.46 L439.09 56.03 L438.72 56.61 L438.35 57.18Z" fill="#111" fill-opacity="0.7" filter="url(#bl1)"/>
<ellipse cx="444.12" cy="50.30" rx="4.10" ry="0.80" transform="rotate(-52.1 444.12 50.30)" fill="#000" fill-opacity="0.8" filter="url(#bl2)"/>
<path d="M439.0 54.4h0M437.5 53.2h0M439.6 57.6h0M440.0 59.3h0M437.0 59.0h0M437.7 53.8h0M436.9 58.8h0M436.8 57.2h0M439.9 52.6h0M438.7 47.3h0M448.5 50.2h0M441.7 50.3h0M435.8 61.1h0M445.1 49.6h0M442.2 50.6h0M438.0 56.0h0M432.9 56.5h0M434.2 54.2h0M436.3 62.0h0M446.8 50.1h0M443.3 49.6h0M436.5 60.6h0M437.1 60.0h0M444.2 45.9h0M446.0 49.1h0M442.3 48.4h0M438.4 61.6h0M442.3 55.8h0M437.4 58.9h0M445.8 49.0h0M448.1 55.5h0M438.2 54.2h0M440.8 49.3h0M446.9 51.5h0M437.8 61.1h0M441.8 53.5h0M442.9 59.2h0M444.2 50.7h0M444.1 58.2h0M442.2 55.0h0M434.6 60.0h0M447.5 50.9h0M439.7 54.3h0M436.8 57.7h0M444.7 48.2h0M442.3 53.8h0M437.1 60.7h0M443.7 55.0h0M441.7 52.3h0M433.8 59.5h0M445.3 53.0h0M440.3 56.7h0M442.4 51.9h0M441.0 51.4h0M441.9 51.1h0M445.5 48.8h0M443.1 54.2h0M446.8 48.0h0M435.0 56.6h0M446.5 51.6h0M442.2 52.7h0M435.5 60.2h0M446.3 47.9h0M435.1 60.9h0M438.9 59.4h0M442.1 51.7h0M442.9 46.3h0M434.7 55.6h0M439.9 62.2h0M436.5 60.8h0M445.8 47.5h0M443.0 49.3h0M436.0 58.9h0M443.9 50.4h0M445.3 49.1h0M444.6 49.5h0M442.3 54.6h0M440.1 51.4h0M442.0 53.5h0M434.9 60.6h0" stroke="#000" stroke-opacity="0.3" stroke-width="0.7" stroke-linecap="round"/>
<ellipse cx="33.13" cy="127.19" rx="12.32" ry="2.23" transform="rotate(-50.6 33.13 127.19)" fill="#999" fill-opacity="0.6" filter="url(#bl1)"/>
<ellipse cx="30.57" cy="130.30" rx="7.83" ry="1.80" transform="rotate(-50.6 30.57 130.30)" fill="#555" fill-opacity="0.6" filter="url(#bl1)"/>
<path d="M30.56 130.89 L31.12 130.31 L31.68 129.73 L32.25 129.15 L32.81 128.57 L33.37 127.99 L33.94 127.41 L34.50 126.83 L35.06 126.25 L35.63 125.67 L36.19 125.09 L36.75 124.51 L37.32 123.93 L37.88 123.35 L38.44 122.77 L39.01 122.19 L39.57 121.61 L40.05 120.95 L40.44 120.24 L40.73 119.43 L40.50 118.20 L40.50 118.20 L39.25 118.22 L38.51 118.66 L37.89 119.18 L37.34 119.78 L36.88 120.44 L36.42 121.11 L35.97 121.78 L35.51 122.44 L35.05 123.11 L34.59 123.77 L34.13 124.44 L33.67 125.11 L33.21 125.77 L32.75 126.44 L32.30 127.10 L31.84 127.77 L31.38 128.43 L30.92 129.10 L30.46 129.77 L30.00 130.43Z" fill="#111" fill-opacity="0.7" filter="url(#bl1)"/>
<ellipse cx="37.00" cy="122.47" rx="4.83" ry="0.90" transform="rotate(-50.6 37.00 122.47)" fill="#000" fill-opacity="0.8" filter="url(#bl2)"/>
<path d="M32.9 126.3h0M28.0 137.5h0M40.1 126.6h0M37.7 122.8h0M34.4 130.0h0M30.9 134.2h0M36.2 132.3h0M37.1 129.8h0M33.6 132.3h0M39.6 123.2h0M39.3 123.0h0M31.3 131.9h0M38.2 124.5h0M41.8 121.3h0M37.4 123.7h0M27.5 134.1h0M33.4 122.6h0M30.7 127.1h0M29.2 127.2h0M36.7 118.9h0M37.4 124.7h0M33.1 118.2h0M38.9 126.4h0M38.3 122.1h0M32.8 129.5h0M38.1 119.3h0M31.6 128.2h0M28.5 129.7h0M30.3 129.8h0M32.9 129.2h0M36.8 117.2h0M32.5 119.8h0M41.0 124.7h0M29.6 131.3h0M29.0 131.5h0M29.3 132.3h0M39.8 122.4h0M35.7 122.2h0M39.5 125.2h0M30.9 125.1h0M28.2 134.9h0M33.0 124.1h0M25.7 125.5h0M26.9 132.2h0M31.7 125.8h0M36.8 118.4h0M34.3 131.4h0M37.7 118.3h0M27.5 134.8h0M40.1 122.0h0M25.9 135.6h0M42.9 122.0h0M25.4 130.6h0M36.7 125.3h0M36.3 123.4h0M27.9 130.4h0M25.8 135.1h0M28.2 130.5h0M37.5 118.3h0M32.8 123.1h0M33.6 125.4h0M25.1 133.5h0M28.8 136.5h0M28.1 133.7h0M22.0 129.6h0M35.7 124.6h0M29.9 131.5h0M26.0 133.2h0M27.4 128.7h0M33.8 129.9h0M40.0 127.0h0M33.4 132.4h0M41.3 125.1h0M29.8 132.8h0M38.8 122.4h0M26.8 128.9h0M27.7 137.2h0M32.3 136.8h0M32.4 122.7h0M26.8 131.6h0" stroke="#000" stroke-opacity="0.3" stroke-width="0.7" stroke-linecap="round"/>
<path d="M92.0 120.0 L105.0 118.0 L118.0 112.0 L118.0 118.5 L106.0 124.5 L97.0 131.0 L92.0 131.0Z" fill="#d4d4d4" fill-opacity="0.35" filter="url(#bl3)"/>
<path d="M109.0 122.8h0M92.4 128.2h0M95.4 130.3h0M101.5 125.7h0M95.6 127.0h0M98.5 127.1h0M99.4 119.2h0M111.9 116.3h0M102.0 118.9h0M108.7 121.0h0M104.0 125.5h0M98.0 120.4h0M101.4 120.9h0M114.3 114.1h0M114.5 116.0h0M97.3 124.6h0M109.0 121.8h0M92.6 120.9h0M98.1 121.5h0M95.8 127.3h0M114.3 119.0h0M115.5 115.5h0M97.9 123.4h0M115.4 113.6h0M97.0 126.2h0M102.5 124.9h0M92.3 130.0h0M98.1 121.1h0M113.7 115.8h0M97.9 130.3h0M100.4 119.7h0M100.9 124.7h0M96.2 127.7h0M92.0 123.5h0M98.7 120.6h0M95.1 130.2h0M105.6 123.0h0M107.2 120.6h0M116.9 117.1h0M93.3 129.4h0M102.9 122.1h0M109.0 121.7h0M117.0 115.7h0M94.0 129.1h0M110.0 116.9h0M93.9 126.1h0M108.2 121.0h0M92.2 121.0h0M98.1 120.2h0M116.9 115.9h0M115.4 116.4h0M111.1 118.8h0M102.6 120.0h0M94.0 123.1h0M101.2 125.4h0M97.1 126.6h0M92.4 122.2h0M110.9 117.2h0M96.5 125.2h0M98.9 125.5h0M117.7 112.4h0M95.0 129.8h0M117.2 114.8h0M100.7 121.9h0M100.3 119.9h0M98.8 127.0h0M110.9 118.5h0M110.0 119.3h0M110.6 116.4h0M94.4 123.1h0M97.0 125.4h0M109.2 122.7h0M108.5 116.6h0M98.7 120.0h0M92.8 125.8h0M109.2 117.0h0M112.7 117.9h0M100.2 125.7h0M93.4 123.6h0M95.1 121.6h0M105.6 118.9h0M110.6 122.1h0M109.4 116.2h0M100.3 121.1h0M101.7 120.5h0M103.8 124.1h0M95.4 120.9h0M108.1 117.7h0M93.8 126.3h0M112.0 120.3h0M94.4 130.3h0M96.3 122.1h0M113.7 115.2h0M96.5 126.5h0M103.1 118.4h0M117.3 114.2h0M98.7 126.1h0M107.7 117.5h0M104.1 125.6h0M97.0 130.2h0M94.8 127.5h0M98.6 120.9h0M117.8 114.8h0M114.2 118.1h0M96.5 126.2h0M92.3 126.5h0M116.8 118.2h0M98.9 119.0h0M101.7 118.7h0M97.9 129.3h0M102.7 124.1h0M98.4 129.5h0M113.1 116.8h0M109.1 119.2h0M113.8 114.5h0M106.0 118.4h0M113.3 118.6h0M114.8 114.6h0M93.2 128.5h0M106.2 120.7h0M100.8 126.9h0M112.7 116.3h0M111.3 115.8h0M104.0 119.6h0M100.1 124.0h0M100.1 128.6h0M105.5 121.2h0M101.4 118.9h0M95.2 129.4h0M92.9 123.2h0M103.2 125.6h0M112.5 118.8h0M97.8 126.2h0M112.8 116.2h0M103.3 119.2h0M100.6 125.9h0M96.9 122.4h0M105.0 124.7h0M95.7 130.2h0M112.7 115.5h0M103.0 123.4h0M102.9 121.8h0M97.3 123.1h0M99.1 127.9h0M116.1 113.0h0M95.7 120.7h0M100.7 126.6h0M96.2 119.8h0M108.1 117.8h0M100.2 121.6h0M96.8 121.1h0M102.5 118.7h0M103.1 118.7h0M110.0 119.4h0M96.0 128.4h0M101.2 124.0h0M106.3 119.6h0M104.5 121.4h0M101.1 122.1h0M104.4 118.3h0M102.1 123.6h0M112.4 117.0h0M101.6 119.4h0M100.6 127.6h0M96.2 125.1h0M93.5 127.3h0M94.3 129.6h0M96.7 123.6h0M103.3 119.4h0M101.1 126.0h0M93.5 122.1h0M107.0 120.6h0M100.8 119.5h0M102.0 125.1h0M92.1 127.2h0M92.1 127.2h0M102.8 124.7h0M108.0 118.0h0M100.3 126.4h0M98.8 123.6h0M96.1 128.3h0M116.0 113.6h0M95.9 126.5h0M107.2 120.1h0M116.3 113.7h0M110.9 116.9h0M94.5 121.4h0M110.8 116.1h0M109.0 117.3h0M103.1 122.9h0M108.6 119.2h0M98.5 127.5h0M92.9 121.1h0M94.3 128.2h0M104.1 120.9h0M113.2 114.3h0M96.8 121.5h0M112.4 116.8h0M115.7 116.2h0M108.4 122.1h0M94.6 129.4h0M111.4 116.4h0M96.2 125.0h0M106.4 119.7h0M104.2 121.4h0M99.0 119.0h0M115.0 119.0h0M95.6 123.1h0M106.2 118.0h0M108.4 122.7h0M108.5 122.3h0M101.4 123.5h0M93.3 120.1h0M117.2 117.9h0M96.7 127.8h0M94.6 129.7h0M99.0 128.7h0M105.4 118.1h0M94.9 126.2h0M101.5 124.6h0M96.2 121.6h0M106.9 122.6h0M102.7 122.3h0M111.7 116.6h0M113.4 116.6h0M94.4 121.1h0M111.9 116.2h0M103.8 121.6h0M94.3 124.3h0M96.1 123.9h0M93.5 121.6h0M109.4 120.2h0M97.8 119.6h0M109.4 116.2h0M102.4 125.1h0M93.8 122.3h0M94.6 121.5h0" stroke="#666" stroke-opacity="0.4" stroke-width="0.6" stroke-linecap="round"/>
<path d="M109.4 121.4 L110.8 122.1 L111.6 123.4 L112.6 124.7 L114.0 125.3M93.2 125.6 L94.4 124.6 L94.7 123.1 L95.2 121.6 L96.1 120.4M101.0 125.2 L102.2 125.1 L103.1 125.7 L104.0 126.3 L105.1 126.0M94.4 125.8 L95.9 125.1 L97.4 125.4 L98.8 126.2 L100.4 126.1M101.9 124.8 L102.5 124.3 L103.2 124.2 L103.8 124.7 L104.5 125.0M97.1 121.9 L98.3 121.4 L99.4 121.0 L100.6 120.7 L101.6 120.0M99.2 121.6 L100.4 121.8 L101.6 121.4 L102.8 121.0 L103.9 120.3M98.5 129.6 L99.6 129.0 L100.6 128.3 L101.8 127.9 L103.1 128.2M97.5 120.6 L98.5 120.1 L99.7 120.1 L100.7 120.5 L101.8 120.4M98.1 126.9 L99.4 127.4 L100.4 128.3 L101.8 128.8 L103.1 128.3M112.9 116.4 L114.0 116.4 L115.0 116.9 L116.0 117.4 L117.0 117.6M99.0 121.3 L99.9 122.4 L99.9 123.9 L100.1 125.4 L100.5 126.8M114.2 118.3 L115.7 118.7 L117.3 118.4 L118.8 118.7 L120.4 118.8" fill="none" stroke="#888" stroke-opacity="0.45" stroke-width="0.5" clip-path="url(#cp11)"/>
<ellipse cx="86.74" cy="127.91" rx="9.05" ry="2.17" transform="rotate(-47.6 86.74 127.91)" fill="#999" fill-opacity="0.6" filter="url(#bl1)"/>
<ellipse cx="84.75" cy="130.10" rx="5.75" ry="1.75" transform="rotate(-47.6 84.75 130.10)" fill="#555" fill-opacity="0.6" filter="url(#bl1)"/>
<path d="M84.78 130.59 L85.23 130.19 L85.67 129.80 L86.12 129.41 L86.57 129.01 L87.02 128.62 L87.46 128.23 L87.91 127.83 L88.36 127.44 L88.81 127.05 L89.25 126.65 L89.70 126.26 L90.15 125.87 L90.60 125.47 L91.04 125.08 L91.49 124.69 L91.94 124.29 L92.30 123.83 L92.60 123.29 L92.79 122.66 L92.50 121.60 L92.50 121.60 L91.42 121.41 L90.81 121.66 L90.30 122.00 L89.87 122.41 L89.52 122.89 L89.17 123.37 L88.82 123.85 L88.47 124.33 L88.12 124.82 L87.77 125.30 L87.42 125.78 L87.07 126.26 L86.71 126.74 L86.36 127.22 L86.01 127.71 L85.66 128.19 L85.31 128.67 L84.96 129.15 L84.61 129.63 L84.26 130.11Z" fill="#111" fill-opacity="0.7" filter="url(#bl1)"/>
<ellipse cx="89.76" cy="124.60" rx="3.55" ry="0.88" transform="rotate(-47.6 89.76 124.60)" fill="#000" fill-opacity="0.8" filter="url(#bl2)"/>
<path d="M84.1 134.2h0M84.2 128.3h0M87.5 127.0h0M85.7 129.8h0M87.1 131.3h0M89.5 125.2h0M83.5 129.1h0M80.7 129.6h0M80.1 132.7h0M81.9 128.5h0M85.9 134.1h0M80.3 128.3h0M85.9 125.8h0M80.7 133.0h0M83.0 128.8h0M84.5 126.2h0M82.8 133.0h0M87.2 130.6h0M85.8 130.5h0M91.2 121.9h0M84.6 132.1h0M86.3 126.1h0M88.5 132.7h0M90.7 125.2h0M84.4 131.2h0M89.6 120.4h0M80.7 132.5h0M88.8 127.5h0M90.9 126.1h0M83.2 127.6h0M91.0 125.7h0M90.2 126.0h0M86.7 129.6h0M86.1 128.6h0M84.3 132.4h0M82.1 133.0h0M83.0 127.8h0M85.2 131.5h0M83.2 120.8h0M82.4 131.6h0M84.8 126.3h0M90.5 123.9h0M84.7 132.8h0M83.5 129.0h0M86.3 125.5h0M81.4 132.5h0M90.8 122.2h0M88.9 126.9h0M86.1 127.0h0M91.8 125.5h0M80.5 126.2h0M87.4 132.0h0M87.0 130.7h0M90.7 128.4h0M84.8 127.7h0M90.4 125.4h0M87.0 129.5h0M87.4 123.9h0M82.3 134.6h0M93.3 130.4h0M86.2 124.1h0M83.3 131.8h0M81.1 130.4h0M81.5 128.9h0M89.8 128.0h0M85.0 133.9h0M85.7 127.2h0M84.8 134.6h0M85.6 127.7h0M83.7 129.8h0M85.9 123.7h0M88.8 124.1h0M87.7 127.6h0M92.2 126.1h0M87.3 127.4h0M84.1 127.1h0M92.8 123.7h0M79.7 130.5h0M92.1 130.9h0M92.6 123.4h0" stroke="#000" stroke-opacity="0.3" stroke-width="0.7" stroke-linecap="round"/>
<path d="M148.0 120.0 L160.0 118.0 L172.0 113.0 L172.0 119.0 L160.0 125.0 L152.0 131.0 L148.0 131.0Z" fill="#d4d4d4" fill-opacity="0.35" filter="url(#bl3)"/>
<path d="M165.5 117.8h0M168.3 116.2h0M148.4 129.0h0M164.5 122.6h0M168.7 116.7h0M169.6 119.1h0M167.1 118.1h0M165.6 117.1h0M150.2 129.7h0M161.3 124.0h0M168.7 115.6h0M164.8 121.4h0M166.9 121.2h0M152.7 130.2h0M154.7 126.4h0M167.9 117.5h0M164.7 120.1h0M160.2 122.0h0M148.6 126.6h0M156.3 126.2h0M163.8 120.3h0M152.7 126.0h0M156.5 127.6h0M163.3 121.7h0M157.0 123.4h0M153.2 120.9h0M148.0 127.4h0M154.1 128.0h0M161.3 123.8h0M166.7 118.3h0M158.5 125.1h0M170.9 116.4h0M150.4 120.4h0M153.3 128.6h0M152.4 123.4h0M152.6 121.6h0M160.9 120.9h0M148.4 129.7h0M166.7 118.5h0M165.4 117.1h0M156.9 121.6h0M149.6 124.6h0M150.4 128.1h0M155.2 121.3h0M156.9 127.2h0M171.9 116.8h0M148.9 126.6h0M157.4 118.6h0M149.7 130.1h0M160.3 120.9h0M152.3 120.3h0M159.1 123.3h0M153.9 123.0h0M168.8 114.4h0M171.5 113.2h0M152.9 124.6h0M148.5 120.9h0M155.8 123.7h0M164.1 118.2h0M167.0 118.5h0M150.8 126.2h0M149.6 129.9h0M148.6 126.0h0M157.5 122.0h0M160.5 118.4h0M171.3 118.8h0M157.4 126.6h0M149.0 121.1h0M169.0 116.7h0M160.5 120.7h0M153.7 123.1h0M155.3 123.6h0M170.2 115.0h0M155.2 125.9h0M151.0 121.5h0M167.7 120.5h0M165.3 118.0h0M162.1 118.4h0M154.6 124.6h0M150.1 127.4h0M150.8 122.2h0M157.0 120.4h0M169.4 117.9h0M154.2 127.7h0M149.9 128.5h0M150.3 124.9h0M150.5 121.6h0M158.2 119.7h0M163.6 120.2h0M161.7 122.3h0M152.5 130.1h0M168.1 117.3h0M169.1 117.8h0M155.5 119.6h0M151.7 125.9h0M153.4 128.3h0M158.5 119.8h0M148.3 128.5h0M171.0 117.1h0M150.4 125.8h0M162.0 122.1h0M151.0 128.3h0M148.5 125.8h0M151.7 122.7h0M154.4 120.2h0M152.6 125.7h0M161.6 118.9h0M170.3 119.7h0M158.7 121.3h0M166.2 118.7h0M150.6 124.2h0M167.4 117.5h0M159.8 119.0h0M171.3 116.1h0M149.8 121.1h0M148.4 121.7h0M159.8 120.1h0M163.5 122.1h0M155.8 123.9h0M171.9 116.6h0M161.0 119.8h0M159.8 120.3h0M150.5 126.2h0M150.8 123.8h0M153.9 123.4h0M156.0 122.8h0M171.8 113.5h0M159.0 122.9h0M163.0 121.6h0M163.2 122.6h0M153.7 119.9h0M153.4 125.7h0M160.7 123.9h0M155.8 123.6h0M170.8 117.4h0M160.4 119.9h0M156.3 127.5h0M152.2 123.1h0M151.9 128.1h0M157.5 122.9h0M170.3 114.2h0M150.9 127.4h0M153.2 129.9h0M167.4 117.1h0M148.0 128.6h0M167.8 114.8h0M171.6 118.9h0M155.5 125.3h0M161.6 118.0h0M154.0 122.8h0M151.2 128.5h0M169.3 117.4h0M150.9 127.0h0M166.4 118.5h0M166.5 121.4h0M167.6 115.9h0M169.1 115.9h0M149.8 126.6h0M150.2 125.0h0M157.8 121.1h0M153.8 127.2h0M151.1 119.9h0M165.7 116.9h0M159.5 119.8h0M158.8 123.2h0M168.7 117.6h0M151.8 120.8h0M169.4 119.8h0M151.0 124.5h0M163.8 118.5h0M160.4 118.2h0M158.7 121.4h0M171.1 115.5h0M168.9 120.4h0M171.8 113.5h0M153.1 126.5h0M159.2 120.4h0M152.7 127.4h0M171.5 117.0h0M157.0 120.5h0M149.7 122.3h0M162.0 121.1h0M156.4 120.5h0M152.1 129.9h0M162.2 122.8h0M155.6 121.9h0M156.3 127.1h0M169.3 117.3h0M166.7 120.9h0M160.9 122.6h0M167.7 118.4h0M149.6 123.0h0M163.7 117.0h0M149.1 121.8h0M148.8 126.3h0M163.0 118.0h0M167.6 121.2h0M165.2 119.3h0M163.7 120.1h0M160.8 124.5h0M153.5 128.2h0M148.3 121.0h0M165.3 118.4h0M153.6 125.7h0M155.2 126.0h0M156.4 126.7h0M171.7 113.2h0M161.1 120.0h0M166.5 118.7h0M153.0 127.1h0M166.5 116.9h0M154.2 125.0h0M164.1 116.7h0M160.8 123.8h0M165.5 116.6h0M155.5 119.2h0M152.2 126.2h0M150.8 126.5h0M154.0 122.3h0M154.5 128.9h0M170.5 118.1h0M161.5 117.6h0M148.6 128.0h0M169.6 117.9h0" stroke="#666" stroke-opacity="0.4" stroke-width="0.6" stroke-linecap="round"/>
<path d="M161.9 121.0 L162.8 121.5 L163.5 122.3 L164.4 122.8 L164.8 123.8M159.4 118.9 L160.2 119.4 L161.0 119.3 L161.8 119.8 L162.1 120.7M148.8 125.6 L149.6 126.1 L150.6 126.5 L151.5 126.8 L152.3 127.3M152.6 124.3 L153.8 124.3 L154.9 124.6 L156.0 124.2 L156.8 123.3M166.4 121.5 L168.0 120.9 L169.5 121.6 L171.2 121.9 L172.2 123.2M169.4 116.6 L170.7 116.4 L171.9 116.9 L172.7 117.8 L173.2 119.0M171.0 114.8 L172.5 114.7 L174.0 115.1 L175.6 115.2 L176.9 115.9M149.0 129.8 L150.1 130.1 L151.0 130.9 L152.0 131.4 L153.0 131.9M148.6 121.8 L149.3 122.3 L150.0 122.7 L150.2 123.5 L149.9 124.3M171.0 114.5 L172.3 115.0 L173.7 114.5 L175.0 114.9 L176.5 115.2M170.2 117.9 L170.9 118.2 L171.4 118.8 L172.2 119.0 L172.9 118.9M148.1 120.5 L148.9 120.4 L149.5 120.9 L149.9 121.6 L149.9 122.4" fill="none" stroke="#888" stroke-opacity="0.45" stroke-width="0.5" clip-path="url(#cp12)"/>
<ellipse cx="142.44" cy="127.12" rx="9.29" ry="2.17" transform="rotate(-49.0 142.44 127.12)" fill="#999" fill-opacity="0.6" filter="url(#bl1)"/>
<ellipse cx="140.45" cy="129.41" rx="5.90" ry="1.75" transform="rotate(-49.0 140.45 129.41)" fill="#555" fill-opacity="0.6" filter="url(#bl1)"/>
<path d="M140.48 129.90 L140.93 129.48 L141.38 129.07 L141.83 128.65 L142.28 128.24 L142.73 127.82 L143.18 127.41 L143.62 126.99 L144.07 126.58 L144.52 126.16 L144.97 125.75 L145.42 125.33 L145.87 124.91 L146.31 124.50 L146.76 124.08 L147.21 123.67 L147.66 123.25 L148.03 122.77 L148.32 122.21 L148.50 121.57 L148.20 120.50 L148.20 120.50 L147.10 120.35 L146.49 120.62 L145.98 120.99 L145.55 121.41 L145.20 121.92 L144.85 122.42 L144.50 122.92 L144.15 123.42 L143.80 123.92 L143.45 124.42 L143.10 124.93 L142.75 125.43 L142.40 125.93 L142.05 126.43 L141.70 126.93 L141.35 127.43 L141.00 127.94 L140.65 128.44 L140.31 128.94 L139.96 129.44Z" fill="#111" fill-opacity="0.7" filter="url(#bl1)"/>
<ellipse cx="145.46" cy="123.64" rx="3.65" ry="0.88" transform="rotate(-49.0 145.46 123.64)" fill="#000" fill-opacity="0.8" filter="url(#bl2)"/>
<path d="M136.5 132.4h0M139.9 125.6h0M134.8 128.7h0M137.9 131.7h0M144.9 121.5h0M140.1 131.3h0M140.2 126.5h0M144.4 120.7h0M136.4 122.1h0M138.7 130.5h0M136.2 132.7h0M139.7 133.4h0M145.7 132.2h0M143.0 128.4h0M145.3 121.8h0M142.0 121.5h0M139.9 129.7h0M141.5 125.5h0M143.4 126.4h0M139.3 128.3h0M147.6 124.9h0M132.9 127.6h0M141.6 133.2h0M146.8 126.0h0M144.3 125.9h0M140.5 124.6h0M145.0 120.6h0M140.9 124.3h0M142.3 127.6h0M135.6 129.8h0M139.6 126.7h0M143.9 127.5h0M139.1 127.7h0M142.1 130.1h0M147.6 121.8h0M144.8 124.8h0M138.6 126.5h0M141.6 129.8h0M143.4 134.1h0M147.4 122.3h0M138.2 128.6h0M137.8 133.2h0M147.2 123.2h0M138.3 129.3h0M145.0 125.5h0M138.9 126.9h0M140.5 131.7h0M142.3 119.6h0M133.3 128.0h0M141.4 121.9h0M142.2 128.3h0M145.3 125.0h0M138.6 133.7h0M139.2 125.3h0M149.0 124.7h0M136.8 131.4h0M141.9 125.1h0M147.6 122.7h0M145.7 125.4h0M141.5 130.2h0M142.0 125.6h0M147.5 125.1h0M138.4 131.0h0M145.3 120.3h0M145.8 120.7h0M140.4 134.3h0M139.2 126.7h0M138.5 127.6h0M139.0 134.7h0M140.4 133.0h0M137.0 127.1h0M139.5 124.7h0M138.2 129.2h0M144.5 123.2h0M138.3 131.5h0M148.8 124.1h0M139.0 131.9h0M140.1 131.8h0M137.8 127.2h0M143.2 130.4h0" stroke="#000" stroke-opacity="0.3" stroke-width="0.7" stroke-linecap="round"/>
<path d="M202.0 120.0 L213.0 117.5 L224.0 116.5 L224.0 122.0 L213.0 125.0 L205.0 130.0 L202.0 130.0Z" fill="#d4d4d4" fill-opacity="0.35" filter="url(#bl3)"/>
<path d="M212.5 121.9h0M210.4 120.2h0M205.0 128.5h0M209.9 125.9h0M212.1 123.6h0M209.4 125.7h0M217.6 122.3h0M203.5 120.0h0M206.7 127.6h0M214.1 120.9h0M207.5 120.4h0M208.2 121.2h0M216.4 118.0h0M207.7 123.6h0M211.5 119.8h0M223.6 120.0h0M220.6 118.1h0M216.4 121.3h0M221.6 120.5h0M208.2 120.2h0M203.9 129.8h0M203.0 124.8h0M209.7 119.0h0M213.2 118.9h0M221.2 118.0h0M205.8 119.8h0M213.3 122.9h0M202.9 127.7h0M202.4 120.8h0M205.1 124.6h0M219.2 118.2h0M217.2 118.0h0M211.0 118.6h0M216.5 120.8h0M210.9 118.2h0M210.5 123.9h0M214.1 122.0h0M219.6 117.7h0M204.6 119.9h0M204.1 128.3h0M209.1 122.0h0M213.8 117.9h0M209.0 118.5h0M210.2 121.1h0M205.4 127.7h0M209.5 120.8h0M221.4 121.3h0M217.3 121.9h0M214.2 121.4h0M219.6 120.6h0M223.2 117.0h0M214.2 123.8h0M211.0 124.0h0M204.0 128.9h0M222.5 117.2h0M219.1 118.6h0M205.4 123.6h0M210.8 123.0h0M208.7 126.4h0M217.1 122.6h0M202.2 128.6h0M217.7 123.1h0M220.7 118.5h0M209.4 126.1h0M220.1 121.5h0M203.7 124.2h0M209.1 120.0h0M214.3 122.5h0M208.8 124.6h0M220.2 117.5h0M204.7 121.2h0M204.8 122.2h0M223.1 119.5h0M213.6 120.6h0M215.1 120.5h0M217.7 122.9h0M212.2 120.4h0M202.9 122.8h0M215.6 119.0h0M212.7 118.9h0M208.0 126.5h0M223.7 118.0h0M202.1 121.3h0M209.7 124.6h0M204.5 127.9h0M209.2 120.6h0M203.4 123.8h0M222.6 117.9h0M222.8 120.1h0M214.3 121.4h0M207.6 127.6h0M202.4 122.1h0M222.8 119.9h0M210.1 124.4h0M207.2 126.1h0M216.4 117.8h0M222.2 117.5h0M217.3 121.2h0M213.7 120.2h0M220.5 122.0h0M206.4 128.1h0M202.5 123.8h0M214.6 118.5h0M222.3 122.4h0M206.1 122.1h0M215.0 122.3h0M217.7 118.3h0M207.6 127.4h0M211.5 119.7h0M217.3 118.0h0M206.9 122.4h0M223.7 120.9h0M208.9 122.9h0M205.6 121.9h0M217.4 120.9h0M219.5 119.0h0M204.2 125.0h0M204.3 126.6h0M216.7 121.5h0M204.8 124.8h0M218.7 122.9h0M215.4 122.2h0M206.1 122.8h0M209.2 119.5h0M207.5 125.8h0M224.0 121.8h0M206.5 121.2h0M223.7 117.4h0M208.7 122.9h0M202.8 122.3h0M202.6 123.6h0M215.9 119.2h0M220.8 122.1h0M223.1 121.3h0M215.6 123.8h0M207.8 127.0h0M208.6 124.7h0M219.8 118.0h0M219.1 121.8h0M213.5 122.2h0M215.9 120.7h0M209.5 121.2h0M203.5 129.7h0M202.1 122.1h0M204.5 126.3h0M219.4 118.1h0M213.4 119.7h0M220.9 118.1h0M223.6 122.1h0M223.2 117.6h0M218.5 119.6h0M209.1 121.1h0M223.7 117.3h0M211.6 118.2h0M217.4 123.5h0M218.9 121.0h0M211.0 124.2h0M203.1 126.2h0M206.5 126.2h0M207.0 124.1h0M210.7 120.1h0M205.3 128.2h0M205.8 120.1h0M208.6 123.8h0M206.9 125.4h0M207.7 121.7h0M207.7 119.8h0M209.1 122.1h0" stroke="#666" stroke-opacity="0.4" stroke-width="0.6" stroke-linecap="round"/>
<path d="M209.9 120.9 L210.5 121.4 L211.1 121.9 L211.8 121.8 L212.5 121.4M206.5 127.6 L208.0 127.0 L209.6 126.5 L210.7 125.2 L211.3 123.7M202.4 127.8 L203.9 127.4 L205.5 127.6 L207.0 127.0 L208.3 126.1M206.4 128.1 L208.0 128.3 L209.0 129.5 L210.4 130.2 L211.7 131.0M216.8 119.7 L217.9 119.7 L219.0 119.3 L219.6 118.3 L219.8 117.2M218.6 119.3 L219.5 118.5 L219.8 117.2 L219.3 116.0 L218.5 115.0M215.0 123.7 L215.8 123.4 L216.5 123.3 L217.1 122.8 L217.8 122.5M207.3 124.5 L208.4 125.1 L209.6 125.6 L210.8 125.9 L212.0 126.4M218.7 119.4 L219.9 118.8 L221.2 118.7 L222.4 118.1 L223.7 117.9" fill="none" stroke="#888" stroke-opacity="0.45" stroke-width="0.5" clip-path="url(#cp13)"/>
<ellipse cx="196.75" cy="127.66" rx="9.04" ry="2.17" transform="rotate(-50.3 196.75 127.66)" fill="#999" fill-opacity="0.6" filter="url(#bl1)"/>
<ellipse cx="194.86" cy="129.94" rx="5.75" ry="1.75" transform="rotate(-50.3 194.86 129.94)" fill="#555" fill-opacity="0.6" filter="url(#bl1)"/>
<path d="M194.91 130.42 L195.34 130.01 L195.77 129.60 L196.19 129.18 L196.62 128.77 L197.05 128.36 L197.48 127.95 L197.91 127.53 L198.34 127.12 L198.77 126.71 L199.19 126.29 L199.62 125.88 L200.05 125.47 L200.48 125.05 L200.91 124.64 L201.34 124.23 L201.76 123.81 L202.11 123.33 L202.38 122.78 L202.53 122.15 L202.20 121.10 L202.20 121.10 L201.11 120.96 L200.51 121.24 L200.02 121.60 L199.61 122.03 L199.28 122.52 L198.96 123.02 L198.63 123.52 L198.30 124.01 L197.97 124.51 L197.65 125.01 L197.32 125.50 L196.99 126.00 L196.66 126.50 L196.34 126.99 L196.01 127.49 L195.68 127.99 L195.35 128.49 L195.03 128.98 L194.70 129.48 L194.37 129.98Z" fill="#111" fill-opacity="0.7" filter="url(#bl1)"/>
<ellipse cx="199.61" cy="124.22" rx="3.55" ry="0.88" transform="rotate(-50.3 199.61 124.22)" fill="#000" fill-opacity="0.8" filter="url(#bl2)"/>
<path d="M193.6 125.7h0M200.2 126.3h0M205.2 124.9h0M194.1 130.8h0M193.5 121.9h0M196.1 128.7h0M197.3 131.6h0M197.2 127.8h0M196.4 131.8h0M193.6 134.4h0M191.4 130.5h0M197.2 128.5h0M196.0 126.9h0M192.3 134.5h0M198.8 128.5h0M194.7 129.5h0M194.6 130.1h0M197.2 122.3h0M192.4 134.8h0M196.2 130.4h0M191.6 125.9h0M199.4 131.5h0M200.1 129.3h0M196.8 126.2h0M199.6 123.6h0M201.7 122.7h0M196.2 127.0h0M198.7 124.6h0M194.2 128.6h0M199.5 121.7h0M194.5 129.0h0M197.9 134.9h0M188.5 126.1h0M193.1 133.1h0M193.8 131.7h0M194.9 128.3h0M198.6 123.7h0M189.1 129.8h0M198.2 121.2h0M199.1 130.7h0M199.0 121.8h0M193.2 132.4h0M197.6 128.9h0M200.7 123.6h0M198.0 127.6h0M195.5 127.4h0M197.4 129.3h0M201.8 123.5h0M196.1 122.9h0M200.1 123.3h0M200.6 121.9h0M200.0 123.0h0M193.2 132.1h0M197.7 128.7h0M195.2 125.1h0M193.4 132.8h0M197.1 123.8h0M199.5 123.5h0M206.2 126.8h0M189.4 131.0h0M193.9 128.1h0M199.5 125.3h0M202.2 124.2h0M203.2 123.7h0M199.6 122.4h0M196.4 128.7h0M197.0 127.9h0M193.0 129.6h0M204.3 124.2h0M192.6 133.1h0M195.0 121.4h0M195.8 133.1h0M200.5 123.3h0M192.9 133.6h0M188.1 129.7h0M198.5 132.6h0M201.1 127.2h0M197.5 127.9h0M190.5 131.3h0M193.7 129.2h0" stroke="#000" stroke-opacity="0.3" stroke-width="0.7" stroke-linecap="round"/>
<path d="M282.0 119.0 L290.0 117.5 L298.0 118.5 L298.0 124.0 L290.0 126.0 L284.0 129.0 L282.0 128.0Z" fill="#d4d4d4" fill-opacity="0.35" filter="url(#bl3)"/>
<path d="M283.9 118.7h0M282.8 120.5h0M284.0 126.6h0M294.2 122.9h0M283.9 120.0h0M284.1 124.5h0M297.6 120.5h0M286.2 127.5h0M283.8 126.6h0M296.3 124.0h0M291.7 124.6h0M294.3 123.4h0M283.8 120.1h0M292.4 118.4h0M283.7 120.4h0M294.7 123.8h0M291.3 120.2h0M287.9 122.5h0M292.2 119.6h0M291.3 121.2h0M289.6 125.7h0M282.3 123.3h0M287.0 124.4h0M295.1 122.9h0M292.1 120.8h0M286.1 123.4h0M290.5 120.1h0M294.2 123.2h0M287.7 120.4h0M297.0 120.4h0M283.1 124.8h0M282.4 127.3h0M292.9 121.4h0M289.1 125.4h0M284.6 121.7h0M291.4 118.7h0M285.5 120.5h0M282.5 124.9h0M289.5 123.5h0M286.5 122.8h0M297.0 123.1h0M282.0 121.6h0M285.2 124.7h0M290.1 123.0h0M293.2 124.4h0M292.4 123.3h0M282.6 122.7h0M295.4 124.4h0M282.7 118.9h0M296.5 123.8h0M284.6 125.6h0M283.4 122.8h0M295.0 121.4h0M284.3 127.5h0M283.0 123.9h0M296.0 118.7h0M291.2 119.6h0M287.3 119.2h0M289.4 118.0h0M292.5 124.9h0M283.2 127.5h0M289.9 118.4h0M293.3 119.5h0M297.7 123.7h0M296.4 123.2h0M287.2 125.1h0M293.4 122.8h0M286.4 122.3h0M293.4 120.1h0M284.5 123.1h0M292.5 118.3h0M286.3 126.4h0M286.9 118.5h0M293.3 124.6h0M289.7 125.1h0M290.3 119.6h0M293.1 119.0h0M287.0 127.3h0M291.1 123.4h0M293.4 123.2h0M288.1 123.9h0M282.4 121.5h0M284.5 127.3h0M286.5 126.8h0M292.4 124.5h0M293.9 120.6h0M295.3 123.7h0M286.1 122.2h0M287.8 118.4h0M289.8 123.8h0M296.1 118.3h0M287.7 125.4h0M290.6 123.2h0M286.1 120.1h0M292.7 121.4h0M297.5 120.7h0M290.2 118.7h0M287.7 118.4h0M294.2 121.7h0M282.8 127.2h0M295.7 118.3h0M288.2 122.4h0M291.7 123.6h0M292.5 118.4h0M283.2 127.8h0M287.8 122.9h0M297.6 119.7h0M292.2 118.2h0M284.5 126.2h0M293.5 123.8h0M292.1 125.2h0M284.9 121.4h0" stroke="#666" stroke-opacity="0.4" stroke-width="0.6" stroke-linecap="round"/>
<path d="M287.2 127.4 L288.5 128.2 L290.0 128.0 L291.0 126.9 L291.7 125.5M283.2 128.4 L284.2 128.9 L285.2 129.5 L286.0 130.2 L286.9 130.8M286.4 123.5 L287.2 122.6 L287.9 121.6 L289.0 121.1 L290.1 120.4M282.9 128.3 L283.8 128.0 L284.7 127.9 L285.4 127.3 L285.8 126.5M288.7 126.2 L289.9 125.9 L291.1 125.7 L292.1 125.0 L293.2 125.2M285.0 119.0 L286.3 119.3 L287.4 118.6 L288.7 118.3 L289.9 117.7" fill="none" stroke="#888" stroke-opacity="0.45" stroke-width="0.5" clip-path="url(#cp14)"/>
<ellipse cx="276.49" cy="126.57" rx="10.12" ry="2.23" transform="rotate(-48.6 276.49 126.57)" fill="#999" fill-opacity="0.6" filter="url(#bl1)"/>
<ellipse cx="274.30" cy="129.06" rx="6.43" ry="1.80" transform="rotate(-48.6 274.30 129.06)" fill="#555" fill-opacity="0.6" filter="url(#bl1)"/>
<path d="M274.32 129.58 L274.81 129.13 L275.30 128.67 L275.78 128.22 L276.27 127.77 L276.76 127.32 L277.25 126.86 L277.74 126.41 L278.23 125.96 L278.71 125.51 L279.20 125.05 L279.69 124.60 L280.18 124.15 L280.67 123.70 L281.15 123.24 L281.64 122.79 L282.13 122.34 L282.53 121.81 L282.86 121.22 L283.08 120.53 L282.80 119.40 L282.80 119.40 L281.65 119.27 L280.99 119.57 L280.44 119.97 L279.97 120.44 L279.58 120.98 L279.20 121.52 L278.81 122.06 L278.42 122.60 L278.03 123.14 L277.65 123.69 L277.26 124.23 L276.87 124.77 L276.49 125.31 L276.10 125.85 L275.71 126.39 L275.33 126.94 L274.94 127.48 L274.55 128.02 L274.17 128.56 L273.78 129.10Z" fill="#111" fill-opacity="0.7" filter="url(#bl1)"/>
<ellipse cx="279.80" cy="122.81" rx="3.97" ry="0.90" transform="rotate(-48.6 279.80 122.81)" fill="#000" fill-opacity="0.8" filter="url(#bl2)"/>
<path d="M280.6 120.5h0M276.1 131.1h0M276.1 125.9h0M278.1 130.7h0M278.1 123.5h0M279.1 128.0h0M277.6 122.8h0M269.6 130.9h0M272.4 132.8h0M273.5 132.0h0M275.8 122.6h0M276.8 133.7h0M273.7 130.7h0M279.4 125.3h0M277.1 125.8h0M282.0 127.7h0M273.1 125.8h0M273.7 126.0h0M268.2 129.5h0M278.4 131.8h0M280.9 127.6h0M282.4 123.6h0M273.0 127.1h0M275.0 131.7h0M274.9 132.6h0M278.6 128.7h0M285.7 124.2h0M280.6 120.0h0M281.3 123.2h0M282.1 120.6h0M278.6 120.0h0M273.6 126.1h0M276.9 129.2h0M275.6 131.7h0M273.6 133.6h0M278.8 120.1h0M272.3 128.4h0M279.4 121.7h0M271.2 129.4h0M272.1 127.4h0M268.8 130.4h0M280.2 122.7h0M273.4 131.5h0M281.4 124.2h0M272.7 130.2h0M270.9 132.2h0M277.7 123.2h0M275.9 127.2h0M279.5 119.1h0M276.9 129.4h0M280.3 130.3h0M278.3 126.8h0M274.1 128.7h0M282.7 122.1h0M278.3 120.5h0M278.8 127.8h0M275.9 133.7h0M272.9 132.0h0M277.4 126.4h0M272.3 131.4h0M273.3 120.6h0M274.1 121.1h0M281.6 131.0h0M276.5 127.4h0M284.2 125.3h0M277.0 128.1h0M272.2 130.1h0M277.6 126.2h0M272.5 130.3h0M277.3 123.2h0M276.5 124.2h0M269.0 125.4h0M275.0 121.4h0M282.7 124.7h0M278.1 122.2h0M280.2 120.5h0M283.6 122.1h0M279.5 122.0h0M280.3 126.2h0M272.6 124.8h0" stroke="#000" stroke-opacity="0.3" stroke-width="0.7" stroke-linecap="round"/>
<path d="M336.0 117.0 L345.0 115.5 L353.0 118.0 L353.0 124.0 L344.0 126.0 L338.0 128.0 L336.0 126.0Z" fill="#d4d4d4" fill-opacity="0.35" filter="url(#bl3)"/>
<path d="M342.7 125.4h0M347.1 122.2h0M336.2 121.3h0M337.7 126.0h0M337.5 126.5h0M339.8 117.2h0M348.8 124.0h0M343.0 123.0h0M344.6 122.2h0M343.9 120.6h0M347.7 116.9h0M348.9 122.3h0M342.0 116.7h0M337.6 122.2h0M339.1 124.9h0M349.7 121.5h0M350.6 117.8h0M341.7 121.9h0M348.4 121.1h0M341.1 126.3h0M342.7 120.7h0M339.8 121.5h0M348.0 120.0h0M347.3 121.7h0M340.9 122.3h0M352.3 118.1h0M337.1 118.1h0M338.6 126.1h0M344.8 116.0h0M340.6 121.9h0M339.0 119.3h0M351.4 121.1h0M340.0 123.0h0M337.9 122.0h0M347.0 116.6h0M345.3 119.4h0M348.7 123.2h0M351.5 123.1h0M339.1 117.8h0M337.1 120.7h0M340.8 121.3h0M350.8 122.5h0M340.7 123.2h0M342.4 121.4h0M345.0 123.8h0M338.9 126.0h0M338.7 119.4h0M349.0 117.5h0M338.1 120.0h0M337.4 121.4h0M341.9 124.7h0M350.3 117.6h0M345.6 122.1h0M338.9 119.5h0M339.7 118.0h0M346.4 119.6h0M349.1 122.7h0M350.4 121.8h0M346.7 118.5h0M347.8 120.6h0M348.3 122.8h0M338.4 119.3h0M346.7 122.3h0M348.2 119.6h0M344.1 121.5h0M344.7 118.7h0M346.0 118.7h0M339.5 118.4h0M351.2 120.0h0M340.6 122.4h0M346.7 116.9h0M344.8 121.7h0M347.4 119.1h0M351.5 123.3h0M337.2 125.7h0M351.0 119.3h0M350.2 118.6h0M349.6 124.1h0M352.3 122.7h0M348.5 123.9h0M342.8 121.7h0M344.6 118.2h0M340.4 126.1h0M350.4 124.2h0M347.7 121.9h0M345.7 123.8h0M336.1 121.0h0M352.5 118.1h0M343.9 116.5h0M340.3 125.8h0M336.6 125.5h0M340.4 127.1h0M342.3 121.1h0M352.2 122.3h0M347.6 116.9h0M336.1 118.8h0M337.8 125.8h0M347.5 117.9h0" stroke="#666" stroke-opacity="0.4" stroke-width="0.6" stroke-linecap="round"/>
<path d="M348.1 119.5 L349.4 119.6 L350.4 120.3 L351.4 121.1 L352.1 122.2M341.8 117.1 L342.8 117.5 L343.8 117.2 L344.7 116.5 L345.5 115.8M343.6 117.2 L345.3 117.2 L346.7 118.0 L348.3 118.3 L349.9 118.8M352.9 123.2 L354.0 123.3 L354.8 124.1 L355.8 124.7 L356.8 125.1M341.4 123.6 L342.9 123.1 L344.4 123.9 L345.5 125.1 L346.6 126.3" fill="none" stroke="#888" stroke-opacity="0.45" stroke-width="0.5" clip-path="url(#cp15)"/>
<ellipse cx="330.74" cy="126.27" rx="10.19" ry="2.29" transform="rotate(-51.0 330.74 126.27)" fill="#999" fill-opacity="0.6" filter="url(#bl1)"/>
<ellipse cx="328.64" cy="128.86" rx="6.48" ry="1.85" transform="rotate(-51.0 328.64 128.86)" fill="#555" fill-opacity="0.6" filter="url(#bl1)"/>
<path d="M328.69 129.39 L329.16 128.92 L329.64 128.44 L330.11 127.97 L330.58 127.50 L331.06 127.02 L331.53 126.55 L332.00 126.07 L332.48 125.60 L332.95 125.12 L333.43 124.65 L333.90 124.18 L334.37 123.70 L334.85 123.23 L335.32 122.75 L335.80 122.28 L336.27 121.80 L336.65 121.26 L336.96 120.64 L337.14 119.93 L336.80 118.80 L336.80 118.80 L335.62 118.70 L334.96 119.03 L334.43 119.45 L333.97 119.94 L333.60 120.50 L333.24 121.06 L332.87 121.62 L332.51 122.19 L332.14 122.75 L331.77 123.31 L331.41 123.87 L331.04 124.43 L330.68 125.00 L330.31 125.56 L329.94 126.12 L329.58 126.68 L329.21 127.24 L328.84 127.80 L328.48 128.37 L328.11 128.93Z" fill="#111" fill-opacity="0.7" filter="url(#bl1)"/>
<ellipse cx="333.92" cy="122.35" rx="4.00" ry="0.93" transform="rotate(-51.0 333.92 122.35)" fill="#000" fill-opacity="0.8" filter="url(#bl2)"/>
<path d="M336.8 123.5h0M335.6 124.0h0M333.3 122.4h0M329.6 126.3h0M326.2 128.5h0M328.6 126.1h0M327.1 122.9h0M325.6 127.7h0M328.4 130.1h0M335.4 122.4h0M336.7 121.8h0M336.6 122.1h0M341.3 126.9h0M327.3 128.6h0M325.6 132.7h0M327.5 135.4h0M324.5 127.4h0M327.1 131.9h0M325.7 131.5h0M327.0 132.5h0M327.3 133.3h0M321.1 129.6h0M335.7 123.7h0M325.6 127.3h0M334.7 122.5h0M336.0 120.4h0M330.4 133.0h0M323.5 131.5h0M325.1 131.7h0M331.4 123.5h0M332.8 124.4h0M329.7 132.6h0M332.5 119.5h0M329.5 122.9h0M328.3 135.0h0M328.2 124.4h0M327.9 122.4h0M331.1 126.2h0M326.5 128.5h0M324.7 133.4h0M333.1 128.2h0M324.7 128.6h0M328.1 124.5h0M328.6 126.0h0M328.9 125.1h0M326.6 123.0h0M333.3 122.2h0M326.8 129.2h0M326.8 128.0h0M330.1 131.1h0M336.0 119.4h0M330.7 122.1h0M337.0 121.9h0M338.3 122.2h0M331.9 130.6h0M325.7 126.9h0M327.2 132.2h0M326.7 127.0h0M329.5 126.6h0M330.7 117.0h0M334.5 123.6h0M326.7 135.0h0M326.4 130.2h0M331.4 127.8h0M325.0 130.7h0M325.8 128.7h0M332.4 123.8h0M334.8 122.2h0M334.7 124.0h0M326.6 128.9h0M336.1 126.6h0M336.7 128.0h0M332.7 127.2h0M330.2 128.1h0M337.8 121.2h0M328.0 134.4h0M335.8 119.9h0M329.4 119.9h0M326.9 131.1h0M331.7 126.3h0" stroke="#000" stroke-opacity="0.3" stroke-width="0.7" stroke-linecap="round"/>
<path d="M390.0 118.0 L398.0 116.5 L406.0 119.0 L405.0 125.0 L398.0 127.0 L392.0 128.0 L390.0 127.0Z" fill="#d4d4d4" fill-opacity="0.35" filter="url(#bl3)"/>
<path d="M391.3 118.7h0M392.8 127.1h0M402.6 119.8h0M392.2 120.9h0M402.6 122.8h0M402.8 120.4h0M401.6 122.3h0M402.2 118.8h0M394.5 118.9h0M403.6 124.6h0M392.5 124.8h0M390.6 121.9h0M394.1 125.3h0M401.5 124.4h0M400.2 124.5h0M390.1 126.1h0M404.4 120.7h0M398.3 124.0h0M404.8 124.0h0M398.3 125.3h0M397.8 116.9h0M398.8 121.3h0M395.4 121.0h0M393.5 120.1h0M397.3 126.2h0M392.0 122.4h0M401.9 125.5h0M396.2 118.4h0M400.5 120.5h0M391.8 123.1h0M396.5 126.7h0M400.6 125.2h0M399.1 125.2h0M392.1 128.0h0M399.3 123.4h0M393.0 117.5h0M401.3 124.9h0M400.7 119.4h0M397.8 125.3h0M391.4 125.4h0M390.2 123.7h0M398.5 117.4h0M396.7 124.2h0M398.2 125.6h0M391.9 126.8h0M405.0 120.4h0M393.3 118.2h0M393.5 121.3h0M396.8 124.1h0M390.0 121.3h0M390.4 118.0h0M394.8 122.5h0M398.4 116.9h0M391.8 124.3h0M396.5 117.6h0M397.7 120.8h0M398.6 120.6h0M399.7 119.5h0M397.0 122.6h0M396.1 123.0h0M391.4 121.3h0M398.1 125.2h0M403.0 125.0h0M396.1 124.7h0M393.2 123.6h0M390.3 118.7h0M392.8 120.5h0M399.8 126.2h0M405.1 121.7h0M402.5 124.0h0M402.4 118.2h0M391.3 122.5h0M399.7 124.4h0M392.9 123.0h0M405.5 119.4h0M400.8 121.6h0M396.7 121.9h0M394.5 118.5h0M404.4 120.7h0M404.0 123.0h0M401.4 121.7h0M393.9 123.0h0M395.0 126.0h0M390.7 123.8h0" stroke="#666" stroke-opacity="0.4" stroke-width="0.6" stroke-linecap="round"/>
<path d="M395.4 121.3 L395.8 122.6 L396.5 123.7 L396.2 124.9 L395.2 125.7M398.4 123.0 L399.3 123.2 L400.1 123.8 L400.3 124.8 L400.3 125.7M401.1 122.8 L401.8 122.2 L402.0 121.4 L402.8 121.0 L403.5 120.4M392.2 121.5 L392.9 121.2 L393.5 120.7 L394.2 120.2 L395.0 120.3" fill="none" stroke="#888" stroke-opacity="0.45" stroke-width="0.5" clip-path="url(#cp16)"/>
<ellipse cx="385.35" cy="126.82" rx="9.33" ry="2.23" transform="rotate(-51.8 385.35 126.82)" fill="#999" fill-opacity="0.6" filter="url(#bl1)"/>
<ellipse cx="383.46" cy="129.22" rx="5.93" ry="1.80" transform="rotate(-51.8 383.46 129.22)" fill="#555" fill-opacity="0.6" filter="url(#bl1)"/>
<path d="M383.52 129.71 L383.95 129.28 L384.38 128.84 L384.82 128.40 L385.25 127.96 L385.68 127.52 L386.11 127.09 L386.54 126.65 L386.97 126.21 L387.40 125.77 L387.83 125.34 L388.26 124.90 L388.69 124.46 L389.13 124.02 L389.56 123.58 L389.99 123.15 L390.42 122.71 L390.76 122.20 L391.02 121.63 L391.17 120.97 L390.80 119.90 L390.80 119.90 L389.67 119.79 L389.06 120.09 L388.57 120.48 L388.16 120.93 L387.83 121.45 L387.51 121.97 L387.18 122.49 L386.86 123.01 L386.53 123.53 L386.21 124.05 L385.88 124.58 L385.56 125.10 L385.23 125.62 L384.91 126.14 L384.58 126.66 L384.26 127.18 L383.93 127.70 L383.61 128.22 L383.28 128.75 L382.96 129.27Z" fill="#111" fill-opacity="0.7" filter="url(#bl1)"/>
<ellipse cx="388.21" cy="123.19" rx="3.66" ry="0.90" transform="rotate(-51.8 388.21 123.19)" fill="#000" fill-opacity="0.8" filter="url(#bl2)"/>
<path d="M379.5 132.9h0M382.3 125.1h0M386.3 129.7h0M385.5 126.9h0M385.4 130.8h0M388.6 122.5h0M389.0 123.6h0M382.8 125.2h0M389.8 123.5h0M381.2 134.2h0M380.0 123.2h0M391.1 122.7h0M383.2 127.5h0M387.8 123.8h0M387.5 128.5h0M384.2 136.0h0M374.8 125.5h0M382.5 132.6h0M383.2 130.5h0M387.7 120.0h0M380.3 133.5h0M390.5 124.0h0M379.0 130.7h0M386.1 117.8h0M390.6 124.9h0M383.0 131.4h0M381.4 132.1h0M389.4 128.8h0M381.2 131.8h0M390.3 122.1h0M382.4 119.6h0M391.0 121.6h0M382.1 130.9h0M387.8 126.5h0M382.5 123.0h0M385.0 126.4h0M380.7 127.5h0M376.0 129.4h0M387.2 129.0h0M387.1 130.1h0M386.0 120.6h0M381.3 122.4h0M389.9 128.8h0M382.9 128.7h0M381.7 132.8h0M389.1 121.3h0M386.8 119.3h0M381.8 122.2h0M386.4 122.9h0M380.0 131.9h0M386.6 123.1h0M386.1 126.6h0M382.4 129.9h0M390.7 129.0h0M388.6 124.6h0M382.6 126.1h0M382.1 126.2h0M391.9 124.4h0M382.7 129.4h0M378.6 132.4h0M387.3 124.9h0M388.3 119.2h0M385.8 123.0h0M391.9 125.2h0M383.4 133.3h0M381.6 129.1h0M381.3 126.7h0M382.6 129.4h0M378.3 131.0h0M384.7 122.6h0M384.3 128.6h0M381.0 131.7h0M377.8 131.4h0M381.5 130.0h0M386.0 127.2h0M389.9 121.1h0M391.9 124.3h0M386.5 128.0h0M387.2 127.9h0M387.1 119.3h0" stroke="#000" stroke-opacity="0.3" stroke-width="0.7" stroke-linecap="round"/>
<path d="M446.0 119.0 L454.0 118.0 L461.0 120.5 L460.0 126.0 L453.0 128.0 L447.0 128.0 L446.0 127.0Z" fill="#d4d4d4" fill-opacity="0.35" filter="url(#bl3)"/>
<path d="M447.7 126.2h0M450.8 127.2h0M457.3 121.9h0M453.9 125.8h0M446.9 123.4h0M454.5 125.2h0M451.1 124.1h0M457.0 121.8h0M456.2 127.0h0M451.5 123.3h0M453.3 126.4h0M450.0 120.9h0M451.9 124.5h0M448.3 127.8h0M453.5 125.3h0M452.2 118.3h0M451.8 123.7h0M447.4 127.8h0M454.8 122.6h0M446.4 120.5h0M451.1 124.5h0M448.6 122.9h0M450.1 123.6h0M456.3 123.2h0M457.3 124.2h0M447.3 124.6h0M453.3 125.6h0M460.1 121.5h0M458.8 120.3h0M458.4 122.5h0M452.8 123.0h0M451.6 120.3h0M456.4 124.3h0M446.8 120.7h0M460.0 120.8h0M450.4 123.8h0M451.6 127.5h0M449.4 119.7h0M452.7 120.8h0M456.1 126.9h0M447.7 121.1h0M448.0 122.3h0M451.5 125.3h0M452.3 124.4h0M448.0 124.1h0M448.1 119.7h0M459.5 125.0h0M457.1 125.9h0M455.3 121.7h0M450.9 126.1h0M460.5 121.7h0M449.3 128.0h0M452.4 122.4h0M450.7 125.2h0M458.8 122.0h0M452.3 126.0h0M456.6 126.3h0M454.0 121.9h0M446.1 123.3h0M451.4 125.8h0M456.1 124.7h0M453.3 118.9h0" stroke="#666" stroke-opacity="0.4" stroke-width="0.6" stroke-linecap="round"/>
<path d="M458.5 125.6 L459.5 126.3 L460.6 126.9 L461.6 127.5 L462.7 128.0M457.0 125.4 L458.1 125.4 L459.1 125.8 L460.2 126.0 L461.0 126.8M451.7 121.5 L452.7 120.8 L453.7 120.2 L454.8 120.3 L455.8 119.7" fill="none" stroke="#888" stroke-opacity="0.45" stroke-width="0.5" clip-path="url(#cp17)"/>
<ellipse cx="440.19" cy="127.07" rx="10.12" ry="2.23" transform="rotate(-48.6 440.19 127.07)" fill="#999" fill-opacity="0.6" filter="url(#bl1)"/>
<ellipse cx="438.00" cy="129.56" rx="6.43" ry="1.80" transform="rotate(-48.6 438.00 129.56)" fill="#555" fill-opacity="0.6" filter="url(#bl1)"/>
<path d="M438.02 130.08 L438.51 129.63 L439.00 129.17 L439.48 128.72 L439.97 128.27 L440.46 127.82 L440.95 127.36 L441.44 126.91 L441.93 126.46 L442.41 126.01 L442.90 125.55 L443.39 125.10 L443.88 124.65 L444.37 124.20 L444.85 123.74 L445.34 123.29 L445.83 122.84 L446.23 122.31 L446.56 121.72 L446.78 121.03 L446.50 119.90 L446.50 119.90 L445.35 119.77 L444.69 120.07 L444.14 120.47 L443.67 120.94 L443.28 121.48 L442.90 122.02 L442.51 122.56 L442.12 123.10 L441.73 123.64 L441.35 124.19 L440.96 124.73 L440.57 125.27 L440.19 125.81 L439.80 126.35 L439.41 126.89 L439.03 127.44 L438.64 127.98 L438.25 128.52 L437.87 129.06 L437.48 129.60Z" fill="#111" fill-opacity="0.7" filter="url(#bl1)"/>
<ellipse cx="443.50" cy="123.31" rx="3.97" ry="0.90" transform="rotate(-48.6 443.50 123.31)" fill="#000" fill-opacity="0.8" filter="url(#bl2)"/>
<path d="M438.2 116.5h0M439.5 121.6h0M442.6 124.4h0M433.3 130.6h0M446.5 124.6h0M434.3 129.2h0M438.0 125.7h0M439.6 127.3h0M442.3 130.4h0M445.2 120.6h0M446.3 123.2h0M441.7 131.7h0M438.0 123.3h0M436.3 128.9h0M439.6 122.8h0M442.4 129.7h0M443.3 126.9h0M434.0 134.0h0M441.7 119.5h0M443.4 122.5h0M440.1 118.1h0M442.6 132.3h0M443.6 125.1h0M437.3 127.0h0M437.2 128.2h0M445.8 124.2h0M438.3 136.4h0M440.4 126.3h0M440.6 124.5h0M447.7 125.2h0M437.1 127.7h0M437.0 130.7h0M442.7 121.4h0M439.9 123.9h0M438.1 133.3h0M440.9 126.4h0M434.5 130.1h0M436.7 130.1h0M440.6 122.2h0M445.5 126.2h0M442.3 132.4h0M441.3 127.3h0M439.9 125.4h0M442.4 119.8h0M436.9 136.4h0M438.3 128.1h0M446.9 123.8h0M432.4 132.5h0M439.1 123.7h0M445.2 124.1h0M436.5 133.2h0M435.5 129.4h0M435.7 134.7h0M441.3 127.8h0M445.9 122.1h0M439.9 130.4h0M439.8 123.9h0M438.2 134.2h0M431.7 131.0h0M434.0 130.9h0M434.2 133.1h0M444.3 121.0h0M443.3 125.8h0M436.4 134.9h0M432.6 130.7h0M448.1 124.8h0M441.2 122.4h0M438.0 125.4h0M439.7 123.5h0M444.0 122.8h0M435.0 127.8h0M447.2 122.6h0M436.2 127.8h0M437.3 132.0h0M438.5 129.6h0M438.4 126.5h0M434.3 127.6h0M433.7 131.1h0M440.9 128.5h0M444.7 127.3h0" stroke="#000" stroke-opacity="0.3" stroke-width="0.7" stroke-linecap="round"/>
<text transform="translate(18.60,6.60) scale(1.000,1)" font-size="7.20" text-anchor="start" fill="#2a2a2a" stroke="#2a2a2a" stroke-width="0.0" font-family="Liberation Serif" >PBMCs alone</text>
<text transform="translate(82.20,6.60) scale(1.000,1)" font-size="7.20" text-anchor="start" fill="#2a2a2a" stroke="#2a2a2a" stroke-width="0.0" font-family="Liberation Serif" >2,400</text>
<text transform="translate(138.80,6.60) scale(1.000,1)" font-size="7.20" text-anchor="start" fill="#2a2a2a" stroke="#2a2a2a" stroke-width="0.0" font-family="Liberation Serif" >1,200</text>
<text transform="translate(194.50,6.60) scale(1.000,1)" font-size="7.20" text-anchor="start" fill="#2a2a2a" stroke="#2a2a2a" stroke-width="0.0" font-family="Liberation Serif" >600</text>
<text transform="translate(275.50,6.60) scale(1.000,1)" font-size="7.20" text-anchor="start" fill="#2a2a2a" stroke="#2a2a2a" stroke-width="0.0" font-family="Liberation Serif" >300</text>
<text transform="translate(331.00,6.60) scale(1.000,1)" font-size="7.20" text-anchor="start" fill="#2a2a2a" stroke="#2a2a2a" stroke-width="0.0" font-family="Liberation Serif" >150</text>
<text transform="translate(389.80,6.60) scale(1.000,1)" font-size="7.20" text-anchor="start" fill="#2a2a2a" stroke="#2a2a2a" stroke-width="0.0" font-family="Liberation Serif" >75</text>
<text transform="translate(441.00,6.60) scale(1.000,1)" font-size="7.20" text-anchor="start" fill="#2a2a2a" stroke="#2a2a2a" stroke-width="0.0" font-family="Liberation Serif" >37.5</text>
<text transform="translate(33.60,82.20) scale(1.000,1)" font-size="7.20" text-anchor="start" fill="#2a2a2a" stroke="#2a2a2a" stroke-width="0.0" font-family="Liberation Serif" >0.02%</text>
<text transform="translate(86.20,82.20) scale(1.000,1)" font-size="7.20" text-anchor="start" fill="#2a2a2a" stroke="#2a2a2a" stroke-width="0.0" font-family="Liberation Serif" >49.89%</text>
<text transform="translate(142.50,82.20) scale(1.000,1)" font-size="7.20" text-anchor="start" fill="#2a2a2a" stroke="#2a2a2a" stroke-width="0.0" font-family="Liberation Serif" >50.58%</text>
<text transform="translate(194.40,82.20) scale(1.000,1)" font-size="7.20" text-anchor="start" fill="#2a2a2a" stroke="#2a2a2a" stroke-width="0.0" font-family="Liberation Serif" >48.37%</text>
<text transform="translate(274.80,82.20) scale(1.000,1)" font-size="7.20" text-anchor="start" fill="#2a2a2a" stroke="#2a2a2a" stroke-width="0.0" font-family="Liberation Serif" >40.12%</text>
<text transform="translate(331.00,82.20) scale(1.000,1)" font-size="7.20" text-anchor="start" fill="#2a2a2a" stroke="#2a2a2a" stroke-width="0.0" font-family="Liberation Serif" >40.68%</text>
<text transform="translate(383.80,82.20) scale(1.000,1)" font-size="7.20" text-anchor="start" fill="#2a2a2a" stroke="#2a2a2a" stroke-width="0.0" font-family="Liberation Serif" >39.70%</text>
<text transform="translate(440.20,82.20) scale(1.000,1)" font-size="7.20" text-anchor="start" fill="#2a2a2a" stroke="#2a2a2a" stroke-width="0.0" font-family="Liberation Serif" >30.17%</text>
<text transform="translate(33.80,158.40) scale(1.000,1)" font-size="7.20" text-anchor="start" fill="#2a2a2a" stroke="#2a2a2a" stroke-width="0.0" font-family="Liberation Serif" >0.02%</text>
<text transform="translate(86.30,158.40) scale(1.000,1)" font-size="7.20" text-anchor="start" fill="#2a2a2a" stroke="#2a2a2a" stroke-width="0.0" font-family="Liberation Serif" >38.91%</text>
<text transform="translate(142.00,158.40) scale(1.000,1)" font-size="7.20" text-anchor="start" fill="#2a2a2a" stroke="#2a2a2a" stroke-width="0.0" font-family="Liberation Serif" >35.12%</text>
<text transform="translate(194.40,158.40) scale(1.000,1)" font-size="7.20" text-anchor="start" fill="#2a2a2a" stroke="#2a2a2a" stroke-width="0.0" font-family="Liberation Serif" >27.43%</text>
<text transform="translate(275.00,158.40) scale(1.000,1)" font-size="7.20" text-anchor="start" fill="#2a2a2a" stroke="#2a2a2a" stroke-width="0.0" font-family="Liberation Serif" >21.91%</text>
<text transform="translate(329.30,158.40) scale(1.000,1)" font-size="7.20" text-anchor="start" fill="#2a2a2a" stroke="#2a2a2a" stroke-width="0.0" font-family="Liberation Serif" >13.68%</text>
<text transform="translate(384.00,158.40) scale(1.000,1)" font-size="7.20" text-anchor="start" fill="#2a2a2a" stroke="#2a2a2a" stroke-width="0.0" font-family="Liberation Serif" >10.21%</text>
<text transform="translate(440.00,158.40) scale(1.000,1)" font-size="7.20" text-anchor="start" fill="#2a2a2a" stroke="#2a2a2a" stroke-width="0.0" font-family="Liberation Serif" >7.96%</text>
<text transform="translate(7.0,39.2) rotate(-90) scale(0.926,1)" x="0" y="0" font-size="7.34" text-anchor="middle" fill="#111" stroke="#111" stroke-width="0.0" font-family="Liberation Serif">Ad5f35GFP</text>
<text transform="translate(15.2,41.6) rotate(-90) scale(0.926,1)" x="0" y="0" font-size="7.34" text-anchor="middle" fill="#111" stroke="#111" stroke-width="0.0" font-family="Liberation Serif">FL2</text>
<text transform="translate(7.0,108.8) rotate(-90) scale(0.926,1)" x="0" y="0" font-size="7.34" text-anchor="middle" fill="#111" stroke="#111" stroke-width="0.0" font-family="Liberation Serif">Ad5fGFP</text>
<text transform="translate(15.2,109.7) rotate(-90) scale(0.926,1)" x="0" y="0" font-size="7.34" text-anchor="middle" fill="#111" stroke="#111" stroke-width="0.0" font-family="Liberation Serif">FL2</text>
<text transform="translate(251,38.8) rotate(-90) scale(0.926,1)" x="0" y="0" font-size="7.34" text-anchor="middle" fill="#333" stroke="#333" stroke-width="0.0" font-family="Liberation Serif">Ad5f35GFP</text>
<text transform="translate(258.6,43) rotate(-90) scale(0.926,1)" x="0" y="0" font-size="7.34" text-anchor="middle" fill="#333" stroke="#333" stroke-width="0.0" font-family="Liberation Serif">FL2</text>
<text transform="translate(251,116.2) rotate(-90) scale(0.926,1)" x="0" y="0" font-size="7.34" text-anchor="middle" fill="#333" stroke="#333" stroke-width="0.0" font-family="Liberation Serif">Ad5fGFP</text>
<text transform="translate(258.8,116) rotate(-90) scale(0.926,1)" x="0" y="0" font-size="7.34" text-anchor="middle" fill="#333" stroke="#333" stroke-width="0.0" font-family="Liberation Serif">FL2</text>
<line x1="32" y1="166.5" x2="216" y2="166.5" stroke="#222" stroke-width="0.9"/>
<polygon points="215.5,164.4 221,166.5 215.5,168.6" fill="#111"/>
<text transform="translate(129.70,175.60) scale(1.000,1)" font-size="8.10" text-anchor="start" fill="#222" stroke="#222" stroke-width="0.0" font-family="Liberation Serif" >GFP</text>
<line x1="268" y1="166.5" x2="457.7" y2="166.5" stroke="#222" stroke-width="0.9"/>
<polygon points="457.2,164.4 462.7,166.5 457.2,168.6" fill="#111"/>
<text transform="translate(365.80,175.60) scale(1.000,1)" font-size="8.10" text-anchor="start" fill="#222" stroke="#222" stroke-width="0.0" font-family="Liberation Serif" >GFP</text>
<rect x="27.1" y="190.3" width="194.1" height="71.80000000000001" fill="none" stroke="#aaa" stroke-width="0.9"/>
<line x1="27.1" y1="190.3" x2="27.1" y2="262.1" stroke="#888" stroke-width="1"/>
<line x1="27.1" y1="262.1" x2="221.2" y2="262.1" stroke="#888" stroke-width="1"/>
<text transform="translate(22.50,263.30) scale(1.000,1)" font-size="7.30" text-anchor="end" fill="#222" stroke="#222" stroke-width="0.0" font-family="Liberation Serif" >0</text>
<text transform="translate(22.50,251.33) scale(1.000,1)" font-size="7.30" text-anchor="end" fill="#222" stroke="#222" stroke-width="0.0" font-family="Liberation Serif" >20</text>
<text transform="translate(22.50,239.37) scale(1.000,1)" font-size="7.30" text-anchor="end" fill="#222" stroke="#222" stroke-width="0.0" font-family="Liberation Serif" >40</text>
<text transform="translate(22.50,227.40) scale(1.000,1)" font-size="7.30" text-anchor="end" fill="#222" stroke="#222" stroke-width="0.0" font-family="Liberation Serif" >60</text>
<text transform="translate(22.50,215.43) scale(1.000,1)" font-size="7.30" text-anchor="end" fill="#222" stroke="#222" stroke-width="0.0" font-family="Liberation Serif" >80</text>
<text transform="translate(22.50,203.47) scale(1.000,1)" font-size="7.30" text-anchor="end" fill="#222" stroke="#222" stroke-width="0.0" font-family="Liberation Serif" >100</text>
<text transform="translate(22.50,191.50) scale(1.000,1)" font-size="7.30" text-anchor="end" fill="#222" stroke="#222" stroke-width="0.0" font-family="Liberation Serif" >120</text>
<defs><pattern id="hb" patternUnits="userSpaceOnUse" width="4.1" height="4.1" patternTransform="rotate(54)"><rect width="4.1" height="4.1" fill="#fff"/><rect width="1.8" height="4.1" fill="#000"/></pattern><pattern id="hc" patternUnits="userSpaceOnUse" width="3.0" height="3.0" patternTransform="rotate(48)"><rect width="3.0" height="3.0" fill="#fff"/><rect width="1.4" height="3.0" fill="#000"/></pattern></defs>
<rect x="33.8" y="206" width="10.0" height="56.10000000000002" fill="#000"/>
<rect x="58" y="218.4" width="10.5" height="43.70000000000002" fill="url(#hb)" stroke="#000" stroke-width="0.6"/>
<rect x="106.5" y="225.6" width="10.099999999999994" height="36.50000000000003" fill="#000"/>
<rect x="131.4" y="260.9" width="8.6" height="1.20" fill="#222"/>
<rect x="179.6" y="204" width="10.200000000000017" height="58.10000000000002" fill="#000"/>
<rect x="203.6" y="260.7" width="10.1" height="1.40" fill="#222"/>
<text transform="translate(28.70,272.60) scale(1.000,1)" font-size="7.20" text-anchor="start" fill="#222" stroke="#222" stroke-width="0.0" font-family="Liberation Serif" >CD14-iso</text>
<text transform="translate(59.30,272.60) scale(1.000,1)" font-size="7.20" text-anchor="start" fill="#222" stroke="#222" stroke-width="0.0" font-family="Liberation Serif" >CD14-iso</text>
<text transform="translate(59.30,281.20) scale(1.000,1)" font-size="7.20" text-anchor="start" fill="#222" stroke="#222" stroke-width="0.0" font-family="Liberation Serif" >GFP+ve</text>
<text transform="translate(101.80,272.60) scale(1.000,1)" font-size="7.20" text-anchor="start" fill="#222" stroke="#222" stroke-width="0.0" font-family="Liberation Serif" >CD19-iso</text>
<text transform="translate(131.30,272.60) scale(1.000,1)" font-size="7.20" text-anchor="start" fill="#222" stroke="#222" stroke-width="0.0" font-family="Liberation Serif" >CD19-iso</text>
<text transform="translate(131.30,281.20) scale(1.000,1)" font-size="7.20" text-anchor="start" fill="#222" stroke="#222" stroke-width="0.0" font-family="Liberation Serif" >GFP+ve</text>
<text transform="translate(172.30,272.60) scale(1.000,1)" font-size="7.20" text-anchor="start" fill="#222" stroke="#222" stroke-width="0.0" font-family="Liberation Serif" >CD3-iso</text>
<text transform="translate(202.80,272.60) scale(1.000,1)" font-size="7.20" text-anchor="start" fill="#222" stroke="#222" stroke-width="0.0" font-family="Liberation Serif" >CD3-iso</text>
<text transform="translate(202.80,281.20) scale(1.000,1)" font-size="7.20" text-anchor="start" fill="#222" stroke="#222" stroke-width="0.0" font-family="Liberation Serif" >GFP+ve</text>
<text transform="translate(7.0,236.3) rotate(-90) scale(0.926,1)" x="0" y="0" font-size="7.78" text-anchor="middle" fill="#111" stroke="#111" stroke-width="0.0" font-family="Liberation Serif">% Total cells</text>
<line x1="518.6" y1="201.4" x2="518.6" y2="262.8" stroke="#e2e2e2" stroke-width="0.9"/>
<line x1="255.0" y1="201.4" x2="518.6" y2="201.4" stroke="#bbb" stroke-width="0.9"/>
<line x1="255.0" y1="201.4" x2="255.0" y2="262.8" stroke="#aaa" stroke-width="0.9"/>
<line x1="255.0" y1="262.8" x2="518.6" y2="262.8" stroke="#b4b4b4" stroke-width="0.9"/>
<text transform="translate(253.40,264.60) scale(1.000,1)" font-size="5.30" text-anchor="end" fill="#333" stroke="#333" stroke-width="0.0" font-family="Liberation Serif" >0</text>
<text transform="translate(253.40,252.32) scale(1.000,1)" font-size="5.30" text-anchor="end" fill="#333" stroke="#333" stroke-width="0.0" font-family="Liberation Serif" >125</text>
<text transform="translate(253.40,240.04) scale(1.000,1)" font-size="5.30" text-anchor="end" fill="#333" stroke="#333" stroke-width="0.0" font-family="Liberation Serif" >250</text>
<text transform="translate(253.40,227.76) scale(1.000,1)" font-size="5.30" text-anchor="end" fill="#333" stroke="#333" stroke-width="0.0" font-family="Liberation Serif" >375</text>
<text transform="translate(253.40,215.48) scale(1.000,1)" font-size="5.30" text-anchor="end" fill="#333" stroke="#333" stroke-width="0.0" font-family="Liberation Serif" >500</text>
<text transform="translate(253.40,203.20) scale(1.000,1)" font-size="5.30" text-anchor="end" fill="#333" stroke="#333" stroke-width="0.0" font-family="Liberation Serif" >625</text>
<text transform="translate(239.3,232.6) rotate(-90) scale(0.926,1)" x="0" y="0" font-size="5.51" text-anchor="middle" fill="#333" stroke="#333" stroke-width="0.0" font-family="Liberation Serif">SFC/10<tspan font-size="3.4" dy="-1.6">5</tspan><tspan dy="1.6"> PBMCs</tspan></text>
<rect x="266.1" y="240.3" width="5.699999999999989" height="22.5" fill="#000"/>
<rect x="271.8" y="229.3" width="6.099999999999966" height="33.5" fill="url(#hc)" stroke="#000" stroke-width="0.6"/>
<line x1="268.95000000000005" y1="240.3" x2="268.95000000000005" y2="232.9" stroke="#222" stroke-width="0.6"/>
<line x1="266.75000000000006" y1="232.9" x2="271.15000000000003" y2="232.9" stroke="#222" stroke-width="0.7"/>
<rect x="305.9" y="210" width="5.2000000000000455" height="52.80000000000001" fill="#000"/>
<rect x="311.1" y="207.2" width="6.0" height="55.60000000000002" fill="url(#hc)" stroke="#000" stroke-width="0.6"/>
<line x1="308.5" y1="210" x2="308.5" y2="207.6" stroke="#222" stroke-width="0.6"/>
<line x1="306.3" y1="207.6" x2="310.7" y2="207.6" stroke="#222" stroke-width="0.7"/>
<line x1="314.1" y1="207.2" x2="314.1" y2="206.5" stroke="#222" stroke-width="0.6"/>
<line x1="312.1" y1="206.5" x2="316.1" y2="206.5" stroke="#222" stroke-width="0.7"/>
<rect x="337.9" y="212.2" width="5.400000000000034" height="50.60000000000002" fill="#000"/>
<rect x="350.6" y="226" width="6.399999999999977" height="36.80000000000001" fill="url(#hc)" stroke="#000" stroke-width="0.6"/>
<line x1="340.6" y1="212.2" x2="340.6" y2="205.4" stroke="#222" stroke-width="0.6"/>
<line x1="338.40000000000003" y1="205.4" x2="342.8" y2="205.4" stroke="#222" stroke-width="0.7"/>
<line x1="353.8" y1="226" x2="353.8" y2="224.2" stroke="#222" stroke-width="0.6"/>
<line x1="351.8" y1="224.2" x2="355.8" y2="224.2" stroke="#222" stroke-width="0.7"/>
<rect x="384.9" y="211.8" width="5.7000000000000455" height="51.0" fill="#000"/>
<rect x="390.6" y="231.3" width="6.0" height="31.5" fill="url(#hc)" stroke="#000" stroke-width="0.6"/>
<line x1="387.75" y1="211.8" x2="387.75" y2="210.8" stroke="#222" stroke-width="0.6"/>
<line x1="385.55" y1="210.8" x2="389.95" y2="210.8" stroke="#222" stroke-width="0.7"/>
<line x1="393.6" y1="231.3" x2="393.6" y2="224.2" stroke="#222" stroke-width="0.6"/>
<line x1="391.6" y1="224.2" x2="395.6" y2="224.2" stroke="#222" stroke-width="0.7"/>
<rect x="424.9" y="209.8" width="5.5" height="53.0" fill="#000"/>
<rect x="430.4" y="241.3" width="5.600000000000023" height="21.5" fill="url(#hc)" stroke="#000" stroke-width="0.6"/>
<line x1="427.65" y1="209.8" x2="427.65" y2="204.4" stroke="#222" stroke-width="0.6"/>
<line x1="425.45" y1="204.4" x2="429.84999999999997" y2="204.4" stroke="#222" stroke-width="0.7"/>
<rect x="464.2" y="241.7" width="5.600000000000023" height="21.100000000000023" fill="#000"/>
<rect x="469.8" y="255" width="5.699999999999989" height="7.800000000000011" fill="url(#hc)" stroke="#000" stroke-width="0.6"/>
<line x1="467.0" y1="241.7" x2="467.0" y2="239.1" stroke="#222" stroke-width="0.6"/>
<line x1="464.8" y1="239.1" x2="469.2" y2="239.1" stroke="#222" stroke-width="0.7"/>
<line x1="472.65" y1="255" x2="472.65" y2="254" stroke="#222" stroke-width="0.6"/>
<line x1="470.65" y1="254" x2="474.65" y2="254" stroke="#222" stroke-width="0.7"/>
<rect x="503.9" y="242.8" width="5.600000000000023" height="20.0" fill="#000"/>
<rect x="509.5" y="257.4" width="5.899999999999977" height="5.400000000000034" fill="url(#hc)" stroke="#000" stroke-width="0.6"/>
<line x1="506.7" y1="242.8" x2="506.7" y2="239.9" stroke="#222" stroke-width="0.6"/>
<line x1="504.5" y1="239.9" x2="508.9" y2="239.9" stroke="#222" stroke-width="0.7"/>
<text transform="translate(266.50,270.70) scale(1.000,1)" font-size="5.80" text-anchor="start" fill="#333" stroke="#333" stroke-width="0.0" font-family="Liberation Serif" >2,400</text>
<text transform="translate(305.40,270.70) scale(1.000,1)" font-size="5.80" text-anchor="start" fill="#333" stroke="#333" stroke-width="0.0" font-family="Liberation Serif" >1,200</text>
<text transform="translate(346.80,270.70) scale(1.000,1)" font-size="5.80" text-anchor="start" fill="#333" stroke="#333" stroke-width="0.0" font-family="Liberation Serif" >600</text>
<text transform="translate(385.40,270.70) scale(1.000,1)" font-size="5.80" text-anchor="start" fill="#333" stroke="#333" stroke-width="0.0" font-family="Liberation Serif" >300</text>
<text transform="translate(426.40,270.70) scale(1.000,1)" font-size="5.80" text-anchor="start" fill="#333" stroke="#333" stroke-width="0.0" font-family="Liberation Serif" >150</text>
<text transform="translate(467.40,270.70) scale(1.000,1)" font-size="5.80" text-anchor="start" fill="#333" stroke="#333" stroke-width="0.0" font-family="Liberation Serif" >75</text>
<text transform="translate(504.80,270.70) scale(1.000,1)" font-size="5.80" text-anchor="start" fill="#333" stroke="#333" stroke-width="0.0" font-family="Liberation Serif" >37.5</text>
<text transform="translate(381.80,279.60) scale(1.000,1)" font-size="6.20" text-anchor="start" fill="#444" stroke="#444" stroke-width="0.0" font-family="Liberation Serif" >moi</text></svg>
</body></html>
